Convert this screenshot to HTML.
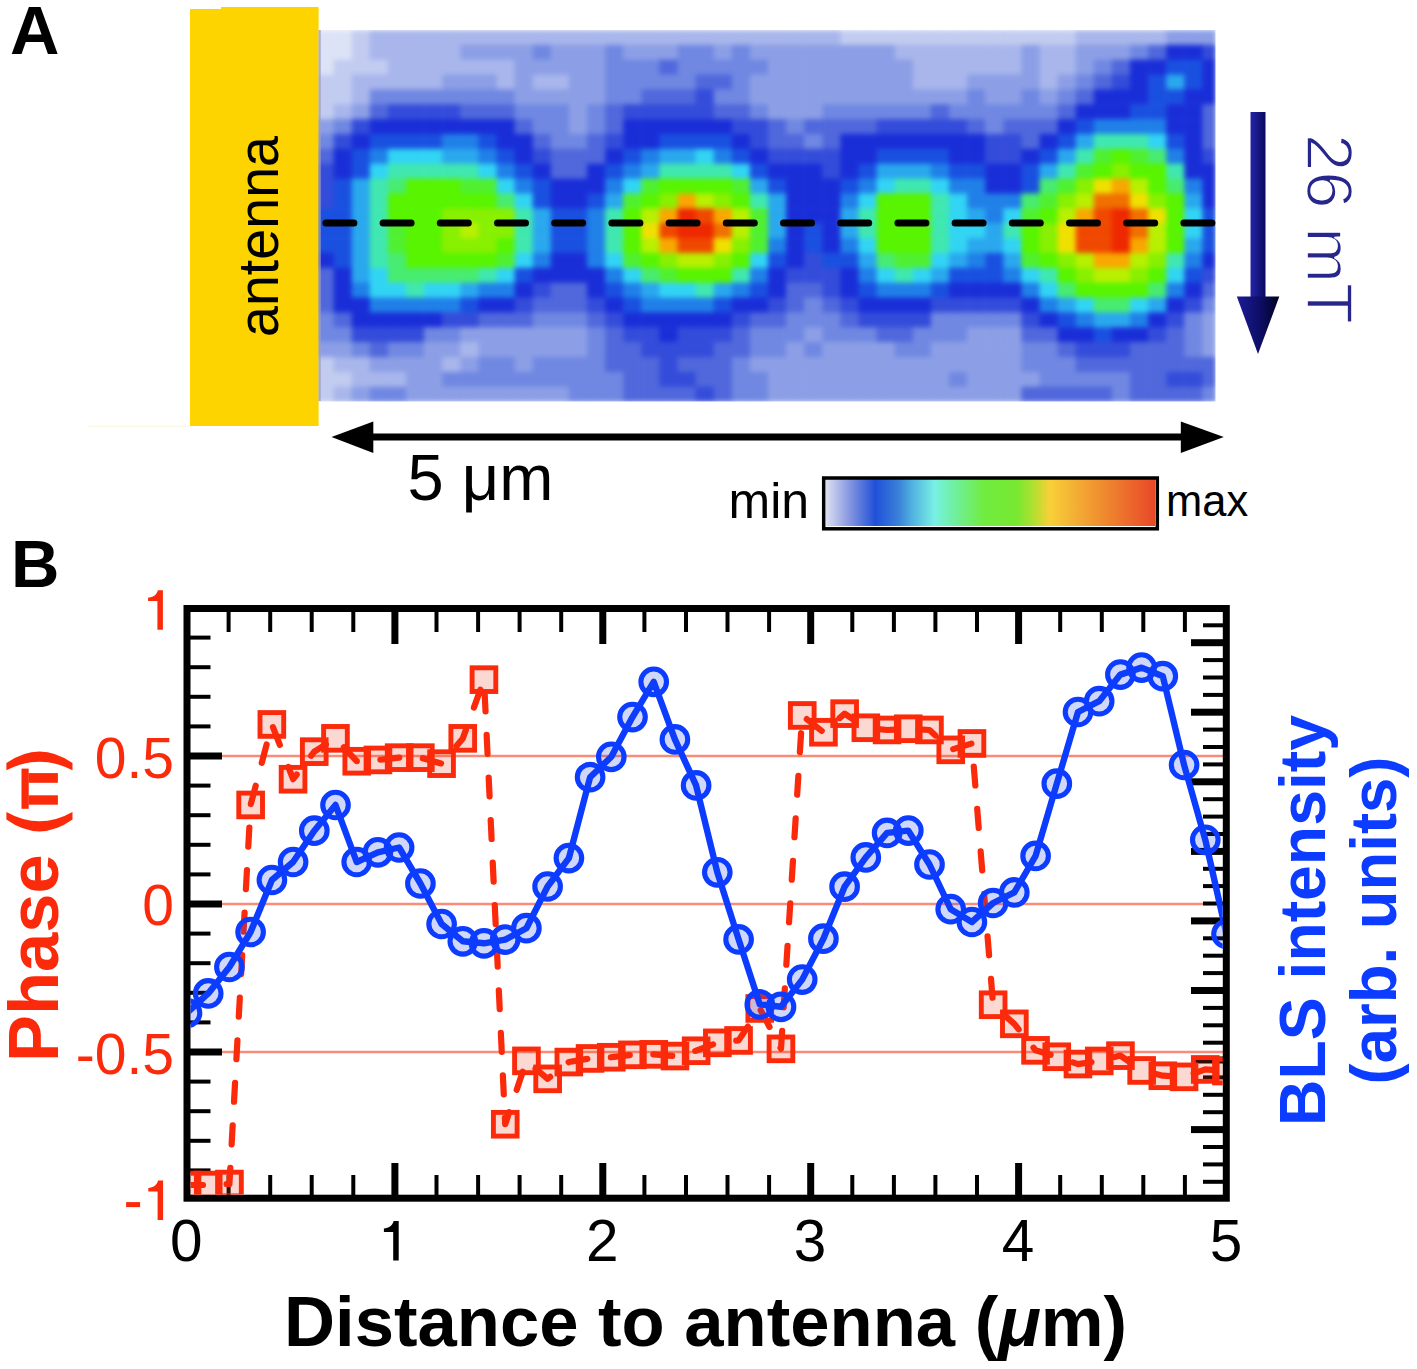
<!DOCTYPE html>
<html><head><meta charset="utf-8"><style>
html,body{margin:0;padding:0;background:#fff;}
svg{display:block;}
text{font-family:"Liberation Sans",sans-serif;}
</style></head><body>
<svg width="1417" height="1369" viewBox="0 0 1417 1369">
<defs>
<linearGradient id="cb" x1="0" x2="1" y1="0" y2="0">
<stop offset="0%" stop-color="#dce0f2"/>
<stop offset="7%" stop-color="#8898e0"/>
<stop offset="15%" stop-color="#2050d8"/>
<stop offset="22%" stop-color="#3a80d8"/>
<stop offset="26%" stop-color="#50b0e0"/>
<stop offset="33%" stop-color="#78f0e4"/>
<stop offset="39%" stop-color="#70f0a0"/>
<stop offset="48%" stop-color="#70ec40"/>
<stop offset="58%" stop-color="#78e830"/>
<stop offset="63%" stop-color="#b0e030"/>
<stop offset="68%" stop-color="#f8d038"/>
<stop offset="83%" stop-color="#f09030"/>
<stop offset="100%" stop-color="#e84828"/>
</linearGradient>
<linearGradient id="shaft" x1="0" x2="1" y1="0" y2="0">
<stop offset="0" stop-color="#2424a8"/><stop offset="1" stop-color="#0a0a60"/>
</linearGradient>
<linearGradient id="head" x1="0" x2="1" y1="0" y2="0">
<stop offset="0" stop-color="#1c1c98"/><stop offset="0.6" stop-color="#0c0c60"/><stop offset="1" stop-color="#000020"/>
</linearGradient>
<filter id="soft" x="0" y="0" width="1" height="1" color-interpolation-filters="sRGB"><feGaussianBlur stdDeviation="2.4"/></filter>
<clipPath id="hclip"><rect x="318" y="30" width="897.5" height="371.5"/></clipPath>
<clipPath id="plot"><rect x="190.5" y="612" width="1032.2" height="582.5"/></clipPath>
</defs>
<rect width="1417" height="1369" fill="#fff"/>
<!-- Panel A -->
<text x="10" y="54" font-size="68.5" font-weight="bold">A</text>
<g clip-path="url(#hclip)"><g filter="url(#soft)">
<rect x="315.50" y="29.90" width="18.70" height="15.47" fill="#dde3f6"/>
<rect x="333.60" y="29.90" width="18.70" height="15.47" fill="#dde3f6"/>
<rect x="351.70" y="29.90" width="18.70" height="15.47" fill="#c2ccf0"/>
<rect x="369.80" y="29.90" width="18.70" height="15.47" fill="#a8b6ec"/>
<rect x="387.90" y="29.90" width="18.70" height="15.47" fill="#a8b6ec"/>
<rect x="406.00" y="29.90" width="18.70" height="15.47" fill="#a8b6ec"/>
<rect x="424.10" y="29.90" width="18.70" height="15.47" fill="#a8b6ec"/>
<rect x="442.20" y="29.90" width="18.70" height="15.47" fill="#a8b6ec"/>
<rect x="460.30" y="29.90" width="18.70" height="15.47" fill="#a8b6ec"/>
<rect x="478.40" y="29.90" width="18.70" height="15.47" fill="#a8b6ec"/>
<rect x="496.50" y="29.90" width="18.70" height="15.47" fill="#a8b6ec"/>
<rect x="514.60" y="29.90" width="18.70" height="15.47" fill="#a8b6ec"/>
<rect x="532.70" y="29.90" width="18.70" height="15.47" fill="#a8b6ec"/>
<rect x="550.80" y="29.90" width="18.70" height="15.47" fill="#a8b6ec"/>
<rect x="568.90" y="29.90" width="18.70" height="15.47" fill="#a8b6ec"/>
<rect x="587.00" y="29.90" width="18.70" height="15.47" fill="#a8b6ec"/>
<rect x="605.10" y="29.90" width="18.70" height="15.47" fill="#a8b6ec"/>
<rect x="623.20" y="29.90" width="18.70" height="15.47" fill="#a8b6ec"/>
<rect x="641.30" y="29.90" width="18.70" height="15.47" fill="#a8b6ec"/>
<rect x="659.40" y="29.90" width="18.70" height="15.47" fill="#a8b6ec"/>
<rect x="677.50" y="29.90" width="18.70" height="15.47" fill="#a8b6ec"/>
<rect x="695.60" y="29.90" width="18.70" height="15.47" fill="#a8b6ec"/>
<rect x="713.70" y="29.90" width="18.70" height="15.47" fill="#a8b6ec"/>
<rect x="731.80" y="29.90" width="18.70" height="15.47" fill="#a8b6ec"/>
<rect x="749.90" y="29.90" width="18.70" height="15.47" fill="#a8b6ec"/>
<rect x="768.00" y="29.90" width="18.70" height="15.47" fill="#a8b6ec"/>
<rect x="786.10" y="29.90" width="18.70" height="15.47" fill="#a8b6ec"/>
<rect x="804.20" y="29.90" width="18.70" height="15.47" fill="#a8b6ec"/>
<rect x="822.30" y="29.90" width="18.70" height="15.47" fill="#a8b6ec"/>
<rect x="840.40" y="29.90" width="18.70" height="15.47" fill="#c2ccf0"/>
<rect x="858.50" y="29.90" width="18.70" height="15.47" fill="#c2ccf0"/>
<rect x="876.60" y="29.90" width="18.70" height="15.47" fill="#c2ccf0"/>
<rect x="894.70" y="29.90" width="18.70" height="15.47" fill="#c2ccf0"/>
<rect x="912.80" y="29.90" width="18.70" height="15.47" fill="#c2ccf0"/>
<rect x="930.90" y="29.90" width="18.70" height="15.47" fill="#c2ccf0"/>
<rect x="949.00" y="29.90" width="18.70" height="15.47" fill="#c2ccf0"/>
<rect x="967.10" y="29.90" width="18.70" height="15.47" fill="#c2ccf0"/>
<rect x="985.20" y="29.90" width="18.70" height="15.47" fill="#c2ccf0"/>
<rect x="1003.30" y="29.90" width="18.70" height="15.47" fill="#c2ccf0"/>
<rect x="1021.40" y="29.90" width="18.70" height="15.47" fill="#c2ccf0"/>
<rect x="1039.50" y="29.90" width="18.70" height="15.47" fill="#c2ccf0"/>
<rect x="1057.60" y="29.90" width="18.70" height="15.47" fill="#c2ccf0"/>
<rect x="1075.70" y="29.90" width="18.70" height="15.47" fill="#a8b6ec"/>
<rect x="1093.80" y="29.90" width="18.70" height="15.47" fill="#a8b6ec"/>
<rect x="1111.90" y="29.90" width="18.70" height="15.47" fill="#a8b6ec"/>
<rect x="1130.00" y="29.90" width="18.70" height="15.47" fill="#a8b6ec"/>
<rect x="1148.10" y="29.90" width="18.70" height="15.47" fill="#a8b6ec"/>
<rect x="1166.20" y="29.90" width="18.70" height="15.47" fill="#8c9fe6"/>
<rect x="1184.30" y="29.90" width="18.70" height="15.47" fill="#8c9fe6"/>
<rect x="1202.40" y="29.90" width="13.70" height="15.47" fill="#8c9fe6"/>
<rect x="315.50" y="44.77" width="18.70" height="15.47" fill="#dde3f6"/>
<rect x="333.60" y="44.77" width="18.70" height="15.47" fill="#dde3f6"/>
<rect x="351.70" y="44.77" width="18.70" height="15.47" fill="#c2ccf0"/>
<rect x="369.80" y="44.77" width="18.70" height="15.47" fill="#a8b6ec"/>
<rect x="387.90" y="44.77" width="18.70" height="15.47" fill="#a8b6ec"/>
<rect x="406.00" y="44.77" width="18.70" height="15.47" fill="#a8b6ec"/>
<rect x="424.10" y="44.77" width="18.70" height="15.47" fill="#a8b6ec"/>
<rect x="442.20" y="44.77" width="18.70" height="15.47" fill="#a8b6ec"/>
<rect x="460.30" y="44.77" width="18.70" height="15.47" fill="#8c9fe6"/>
<rect x="478.40" y="44.77" width="18.70" height="15.47" fill="#8c9fe6"/>
<rect x="496.50" y="44.77" width="18.70" height="15.47" fill="#8c9fe6"/>
<rect x="514.60" y="44.77" width="18.70" height="15.47" fill="#8c9fe6"/>
<rect x="532.70" y="44.77" width="18.70" height="15.47" fill="#7088e2"/>
<rect x="550.80" y="44.77" width="18.70" height="15.47" fill="#8c9fe6"/>
<rect x="568.90" y="44.77" width="18.70" height="15.47" fill="#8c9fe6"/>
<rect x="587.00" y="44.77" width="18.70" height="15.47" fill="#8c9fe6"/>
<rect x="605.10" y="44.77" width="18.70" height="15.47" fill="#7088e2"/>
<rect x="623.20" y="44.77" width="18.70" height="15.47" fill="#8c9fe6"/>
<rect x="641.30" y="44.77" width="18.70" height="15.47" fill="#8c9fe6"/>
<rect x="659.40" y="44.77" width="18.70" height="15.47" fill="#8c9fe6"/>
<rect x="677.50" y="44.77" width="18.70" height="15.47" fill="#7088e2"/>
<rect x="695.60" y="44.77" width="18.70" height="15.47" fill="#7088e2"/>
<rect x="713.70" y="44.77" width="18.70" height="15.47" fill="#8c9fe6"/>
<rect x="731.80" y="44.77" width="18.70" height="15.47" fill="#7088e2"/>
<rect x="749.90" y="44.77" width="18.70" height="15.47" fill="#8c9fe6"/>
<rect x="768.00" y="44.77" width="18.70" height="15.47" fill="#8c9fe6"/>
<rect x="786.10" y="44.77" width="18.70" height="15.47" fill="#8c9fe6"/>
<rect x="804.20" y="44.77" width="18.70" height="15.47" fill="#8c9fe6"/>
<rect x="822.30" y="44.77" width="18.70" height="15.47" fill="#8c9fe6"/>
<rect x="840.40" y="44.77" width="18.70" height="15.47" fill="#8c9fe6"/>
<rect x="858.50" y="44.77" width="18.70" height="15.47" fill="#8c9fe6"/>
<rect x="876.60" y="44.77" width="18.70" height="15.47" fill="#8c9fe6"/>
<rect x="894.70" y="44.77" width="18.70" height="15.47" fill="#a8b6ec"/>
<rect x="912.80" y="44.77" width="18.70" height="15.47" fill="#a8b6ec"/>
<rect x="930.90" y="44.77" width="18.70" height="15.47" fill="#a8b6ec"/>
<rect x="949.00" y="44.77" width="18.70" height="15.47" fill="#a8b6ec"/>
<rect x="967.10" y="44.77" width="18.70" height="15.47" fill="#a8b6ec"/>
<rect x="985.20" y="44.77" width="18.70" height="15.47" fill="#a8b6ec"/>
<rect x="1003.30" y="44.77" width="18.70" height="15.47" fill="#a8b6ec"/>
<rect x="1021.40" y="44.77" width="18.70" height="15.47" fill="#8c9fe6"/>
<rect x="1039.50" y="44.77" width="18.70" height="15.47" fill="#a8b6ec"/>
<rect x="1057.60" y="44.77" width="18.70" height="15.47" fill="#a8b6ec"/>
<rect x="1075.70" y="44.77" width="18.70" height="15.47" fill="#8c9fe6"/>
<rect x="1093.80" y="44.77" width="18.70" height="15.47" fill="#8c9fe6"/>
<rect x="1111.90" y="44.77" width="18.70" height="15.47" fill="#8c9fe6"/>
<rect x="1130.00" y="44.77" width="18.70" height="15.47" fill="#7088e2"/>
<rect x="1148.10" y="44.77" width="18.70" height="15.47" fill="#5068dc"/>
<rect x="1166.20" y="44.77" width="18.70" height="15.47" fill="#1a2ed8"/>
<rect x="1184.30" y="44.77" width="18.70" height="15.47" fill="#1a2ed8"/>
<rect x="1202.40" y="44.77" width="13.70" height="15.47" fill="#344cda"/>
<rect x="315.50" y="59.64" width="18.70" height="15.47" fill="#dde3f6"/>
<rect x="333.60" y="59.64" width="18.70" height="15.47" fill="#c2ccf0"/>
<rect x="351.70" y="59.64" width="18.70" height="15.47" fill="#c2ccf0"/>
<rect x="369.80" y="59.64" width="18.70" height="15.47" fill="#c2ccf0"/>
<rect x="387.90" y="59.64" width="18.70" height="15.47" fill="#a8b6ec"/>
<rect x="406.00" y="59.64" width="18.70" height="15.47" fill="#a8b6ec"/>
<rect x="424.10" y="59.64" width="18.70" height="15.47" fill="#a8b6ec"/>
<rect x="442.20" y="59.64" width="18.70" height="15.47" fill="#a8b6ec"/>
<rect x="460.30" y="59.64" width="18.70" height="15.47" fill="#a8b6ec"/>
<rect x="478.40" y="59.64" width="18.70" height="15.47" fill="#a8b6ec"/>
<rect x="496.50" y="59.64" width="18.70" height="15.47" fill="#a8b6ec"/>
<rect x="514.60" y="59.64" width="18.70" height="15.47" fill="#8c9fe6"/>
<rect x="532.70" y="59.64" width="18.70" height="15.47" fill="#8c9fe6"/>
<rect x="550.80" y="59.64" width="18.70" height="15.47" fill="#8c9fe6"/>
<rect x="568.90" y="59.64" width="18.70" height="15.47" fill="#8c9fe6"/>
<rect x="587.00" y="59.64" width="18.70" height="15.47" fill="#8c9fe6"/>
<rect x="605.10" y="59.64" width="18.70" height="15.47" fill="#7088e2"/>
<rect x="623.20" y="59.64" width="18.70" height="15.47" fill="#7088e2"/>
<rect x="641.30" y="59.64" width="18.70" height="15.47" fill="#7088e2"/>
<rect x="659.40" y="59.64" width="18.70" height="15.47" fill="#5068dc"/>
<rect x="677.50" y="59.64" width="18.70" height="15.47" fill="#7088e2"/>
<rect x="695.60" y="59.64" width="18.70" height="15.47" fill="#7088e2"/>
<rect x="713.70" y="59.64" width="18.70" height="15.47" fill="#7088e2"/>
<rect x="731.80" y="59.64" width="18.70" height="15.47" fill="#7088e2"/>
<rect x="749.90" y="59.64" width="18.70" height="15.47" fill="#7088e2"/>
<rect x="768.00" y="59.64" width="18.70" height="15.47" fill="#8c9fe6"/>
<rect x="786.10" y="59.64" width="18.70" height="15.47" fill="#8c9fe6"/>
<rect x="804.20" y="59.64" width="18.70" height="15.47" fill="#8c9fe6"/>
<rect x="822.30" y="59.64" width="18.70" height="15.47" fill="#8c9fe6"/>
<rect x="840.40" y="59.64" width="18.70" height="15.47" fill="#8c9fe6"/>
<rect x="858.50" y="59.64" width="18.70" height="15.47" fill="#8c9fe6"/>
<rect x="876.60" y="59.64" width="18.70" height="15.47" fill="#8c9fe6"/>
<rect x="894.70" y="59.64" width="18.70" height="15.47" fill="#8c9fe6"/>
<rect x="912.80" y="59.64" width="18.70" height="15.47" fill="#a8b6ec"/>
<rect x="930.90" y="59.64" width="18.70" height="15.47" fill="#a8b6ec"/>
<rect x="949.00" y="59.64" width="18.70" height="15.47" fill="#a8b6ec"/>
<rect x="967.10" y="59.64" width="18.70" height="15.47" fill="#a8b6ec"/>
<rect x="985.20" y="59.64" width="18.70" height="15.47" fill="#a8b6ec"/>
<rect x="1003.30" y="59.64" width="18.70" height="15.47" fill="#a8b6ec"/>
<rect x="1021.40" y="59.64" width="18.70" height="15.47" fill="#8c9fe6"/>
<rect x="1039.50" y="59.64" width="18.70" height="15.47" fill="#a8b6ec"/>
<rect x="1057.60" y="59.64" width="18.70" height="15.47" fill="#a8b6ec"/>
<rect x="1075.70" y="59.64" width="18.70" height="15.47" fill="#8c9fe6"/>
<rect x="1093.80" y="59.64" width="18.70" height="15.47" fill="#7088e2"/>
<rect x="1111.90" y="59.64" width="18.70" height="15.47" fill="#5068dc"/>
<rect x="1130.00" y="59.64" width="18.70" height="15.47" fill="#1a2ed8"/>
<rect x="1148.10" y="59.64" width="18.70" height="15.47" fill="#1a2ed8"/>
<rect x="1166.20" y="59.64" width="18.70" height="15.47" fill="#1a50e0"/>
<rect x="1184.30" y="59.64" width="18.70" height="15.47" fill="#1a50e0"/>
<rect x="1202.40" y="59.64" width="13.70" height="15.47" fill="#1a2ed8"/>
<rect x="315.50" y="74.51" width="18.70" height="15.47" fill="#c2ccf0"/>
<rect x="333.60" y="74.51" width="18.70" height="15.47" fill="#c2ccf0"/>
<rect x="351.70" y="74.51" width="18.70" height="15.47" fill="#a8b6ec"/>
<rect x="369.80" y="74.51" width="18.70" height="15.47" fill="#a8b6ec"/>
<rect x="387.90" y="74.51" width="18.70" height="15.47" fill="#a8b6ec"/>
<rect x="406.00" y="74.51" width="18.70" height="15.47" fill="#a8b6ec"/>
<rect x="424.10" y="74.51" width="18.70" height="15.47" fill="#a8b6ec"/>
<rect x="442.20" y="74.51" width="18.70" height="15.47" fill="#8c9fe6"/>
<rect x="460.30" y="74.51" width="18.70" height="15.47" fill="#8c9fe6"/>
<rect x="478.40" y="74.51" width="18.70" height="15.47" fill="#8c9fe6"/>
<rect x="496.50" y="74.51" width="18.70" height="15.47" fill="#a8b6ec"/>
<rect x="514.60" y="74.51" width="18.70" height="15.47" fill="#8c9fe6"/>
<rect x="532.70" y="74.51" width="18.70" height="15.47" fill="#a8b6ec"/>
<rect x="550.80" y="74.51" width="18.70" height="15.47" fill="#a8b6ec"/>
<rect x="568.90" y="74.51" width="18.70" height="15.47" fill="#8c9fe6"/>
<rect x="587.00" y="74.51" width="18.70" height="15.47" fill="#8c9fe6"/>
<rect x="605.10" y="74.51" width="18.70" height="15.47" fill="#7088e2"/>
<rect x="623.20" y="74.51" width="18.70" height="15.47" fill="#7088e2"/>
<rect x="641.30" y="74.51" width="18.70" height="15.47" fill="#7088e2"/>
<rect x="659.40" y="74.51" width="18.70" height="15.47" fill="#7088e2"/>
<rect x="677.50" y="74.51" width="18.70" height="15.47" fill="#7088e2"/>
<rect x="695.60" y="74.51" width="18.70" height="15.47" fill="#5068dc"/>
<rect x="713.70" y="74.51" width="18.70" height="15.47" fill="#5068dc"/>
<rect x="731.80" y="74.51" width="18.70" height="15.47" fill="#7088e2"/>
<rect x="749.90" y="74.51" width="18.70" height="15.47" fill="#8c9fe6"/>
<rect x="768.00" y="74.51" width="18.70" height="15.47" fill="#8c9fe6"/>
<rect x="786.10" y="74.51" width="18.70" height="15.47" fill="#8c9fe6"/>
<rect x="804.20" y="74.51" width="18.70" height="15.47" fill="#8c9fe6"/>
<rect x="822.30" y="74.51" width="18.70" height="15.47" fill="#8c9fe6"/>
<rect x="840.40" y="74.51" width="18.70" height="15.47" fill="#8c9fe6"/>
<rect x="858.50" y="74.51" width="18.70" height="15.47" fill="#8c9fe6"/>
<rect x="876.60" y="74.51" width="18.70" height="15.47" fill="#8c9fe6"/>
<rect x="894.70" y="74.51" width="18.70" height="15.47" fill="#8c9fe6"/>
<rect x="912.80" y="74.51" width="18.70" height="15.47" fill="#a8b6ec"/>
<rect x="930.90" y="74.51" width="18.70" height="15.47" fill="#a8b6ec"/>
<rect x="949.00" y="74.51" width="18.70" height="15.47" fill="#a8b6ec"/>
<rect x="967.10" y="74.51" width="18.70" height="15.47" fill="#8c9fe6"/>
<rect x="985.20" y="74.51" width="18.70" height="15.47" fill="#8c9fe6"/>
<rect x="1003.30" y="74.51" width="18.70" height="15.47" fill="#8c9fe6"/>
<rect x="1021.40" y="74.51" width="18.70" height="15.47" fill="#8c9fe6"/>
<rect x="1039.50" y="74.51" width="18.70" height="15.47" fill="#a8b6ec"/>
<rect x="1057.60" y="74.51" width="18.70" height="15.47" fill="#8c9fe6"/>
<rect x="1075.70" y="74.51" width="18.70" height="15.47" fill="#7088e2"/>
<rect x="1093.80" y="74.51" width="18.70" height="15.47" fill="#5068dc"/>
<rect x="1111.90" y="74.51" width="18.70" height="15.47" fill="#344cda"/>
<rect x="1130.00" y="74.51" width="18.70" height="15.47" fill="#1a2ed8"/>
<rect x="1148.10" y="74.51" width="18.70" height="15.47" fill="#1a50e0"/>
<rect x="1166.20" y="74.51" width="18.70" height="15.47" fill="#2aa8ee"/>
<rect x="1184.30" y="74.51" width="18.70" height="15.47" fill="#1a50e0"/>
<rect x="1202.40" y="74.51" width="13.70" height="15.47" fill="#1a2ed8"/>
<rect x="315.50" y="89.38" width="18.70" height="15.47" fill="#c2ccf0"/>
<rect x="333.60" y="89.38" width="18.70" height="15.47" fill="#c2ccf0"/>
<rect x="351.70" y="89.38" width="18.70" height="15.47" fill="#a8b6ec"/>
<rect x="369.80" y="89.38" width="18.70" height="15.47" fill="#7088e2"/>
<rect x="387.90" y="89.38" width="18.70" height="15.47" fill="#7088e2"/>
<rect x="406.00" y="89.38" width="18.70" height="15.47" fill="#7088e2"/>
<rect x="424.10" y="89.38" width="18.70" height="15.47" fill="#7088e2"/>
<rect x="442.20" y="89.38" width="18.70" height="15.47" fill="#7088e2"/>
<rect x="460.30" y="89.38" width="18.70" height="15.47" fill="#7088e2"/>
<rect x="478.40" y="89.38" width="18.70" height="15.47" fill="#7088e2"/>
<rect x="496.50" y="89.38" width="18.70" height="15.47" fill="#7088e2"/>
<rect x="514.60" y="89.38" width="18.70" height="15.47" fill="#8c9fe6"/>
<rect x="532.70" y="89.38" width="18.70" height="15.47" fill="#8c9fe6"/>
<rect x="550.80" y="89.38" width="18.70" height="15.47" fill="#8c9fe6"/>
<rect x="568.90" y="89.38" width="18.70" height="15.47" fill="#8c9fe6"/>
<rect x="587.00" y="89.38" width="18.70" height="15.47" fill="#8c9fe6"/>
<rect x="605.10" y="89.38" width="18.70" height="15.47" fill="#7088e2"/>
<rect x="623.20" y="89.38" width="18.70" height="15.47" fill="#7088e2"/>
<rect x="641.30" y="89.38" width="18.70" height="15.47" fill="#5068dc"/>
<rect x="659.40" y="89.38" width="18.70" height="15.47" fill="#5068dc"/>
<rect x="677.50" y="89.38" width="18.70" height="15.47" fill="#5068dc"/>
<rect x="695.60" y="89.38" width="18.70" height="15.47" fill="#344cda"/>
<rect x="713.70" y="89.38" width="18.70" height="15.47" fill="#7088e2"/>
<rect x="731.80" y="89.38" width="18.70" height="15.47" fill="#7088e2"/>
<rect x="749.90" y="89.38" width="18.70" height="15.47" fill="#8c9fe6"/>
<rect x="768.00" y="89.38" width="18.70" height="15.47" fill="#8c9fe6"/>
<rect x="786.10" y="89.38" width="18.70" height="15.47" fill="#8c9fe6"/>
<rect x="804.20" y="89.38" width="18.70" height="15.47" fill="#8c9fe6"/>
<rect x="822.30" y="89.38" width="18.70" height="15.47" fill="#8c9fe6"/>
<rect x="840.40" y="89.38" width="18.70" height="15.47" fill="#8c9fe6"/>
<rect x="858.50" y="89.38" width="18.70" height="15.47" fill="#8c9fe6"/>
<rect x="876.60" y="89.38" width="18.70" height="15.47" fill="#8c9fe6"/>
<rect x="894.70" y="89.38" width="18.70" height="15.47" fill="#8c9fe6"/>
<rect x="912.80" y="89.38" width="18.70" height="15.47" fill="#8c9fe6"/>
<rect x="930.90" y="89.38" width="18.70" height="15.47" fill="#8c9fe6"/>
<rect x="949.00" y="89.38" width="18.70" height="15.47" fill="#8c9fe6"/>
<rect x="967.10" y="89.38" width="18.70" height="15.47" fill="#7088e2"/>
<rect x="985.20" y="89.38" width="18.70" height="15.47" fill="#8c9fe6"/>
<rect x="1003.30" y="89.38" width="18.70" height="15.47" fill="#8c9fe6"/>
<rect x="1021.40" y="89.38" width="18.70" height="15.47" fill="#7088e2"/>
<rect x="1039.50" y="89.38" width="18.70" height="15.47" fill="#8c9fe6"/>
<rect x="1057.60" y="89.38" width="18.70" height="15.47" fill="#7088e2"/>
<rect x="1075.70" y="89.38" width="18.70" height="15.47" fill="#5068dc"/>
<rect x="1093.80" y="89.38" width="18.70" height="15.47" fill="#1a2ed8"/>
<rect x="1111.90" y="89.38" width="18.70" height="15.47" fill="#1a2ed8"/>
<rect x="1130.00" y="89.38" width="18.70" height="15.47" fill="#1a2ed8"/>
<rect x="1148.10" y="89.38" width="18.70" height="15.47" fill="#1a50e0"/>
<rect x="1166.20" y="89.38" width="18.70" height="15.47" fill="#1a50e0"/>
<rect x="1184.30" y="89.38" width="18.70" height="15.47" fill="#1a2ed8"/>
<rect x="1202.40" y="89.38" width="13.70" height="15.47" fill="#1a2ed8"/>
<rect x="315.50" y="104.25" width="18.70" height="15.47" fill="#c2ccf0"/>
<rect x="333.60" y="104.25" width="18.70" height="15.47" fill="#a8b6ec"/>
<rect x="351.70" y="104.25" width="18.70" height="15.47" fill="#8c9fe6"/>
<rect x="369.80" y="104.25" width="18.70" height="15.47" fill="#5068dc"/>
<rect x="387.90" y="104.25" width="18.70" height="15.47" fill="#344cda"/>
<rect x="406.00" y="104.25" width="18.70" height="15.47" fill="#344cda"/>
<rect x="424.10" y="104.25" width="18.70" height="15.47" fill="#344cda"/>
<rect x="442.20" y="104.25" width="18.70" height="15.47" fill="#344cda"/>
<rect x="460.30" y="104.25" width="18.70" height="15.47" fill="#5068dc"/>
<rect x="478.40" y="104.25" width="18.70" height="15.47" fill="#5068dc"/>
<rect x="496.50" y="104.25" width="18.70" height="15.47" fill="#5068dc"/>
<rect x="514.60" y="104.25" width="18.70" height="15.47" fill="#7088e2"/>
<rect x="532.70" y="104.25" width="18.70" height="15.47" fill="#7088e2"/>
<rect x="550.80" y="104.25" width="18.70" height="15.47" fill="#7088e2"/>
<rect x="568.90" y="104.25" width="18.70" height="15.47" fill="#8c9fe6"/>
<rect x="587.00" y="104.25" width="18.70" height="15.47" fill="#7088e2"/>
<rect x="605.10" y="104.25" width="18.70" height="15.47" fill="#5068dc"/>
<rect x="623.20" y="104.25" width="18.70" height="15.47" fill="#344cda"/>
<rect x="641.30" y="104.25" width="18.70" height="15.47" fill="#344cda"/>
<rect x="659.40" y="104.25" width="18.70" height="15.47" fill="#344cda"/>
<rect x="677.50" y="104.25" width="18.70" height="15.47" fill="#344cda"/>
<rect x="695.60" y="104.25" width="18.70" height="15.47" fill="#344cda"/>
<rect x="713.70" y="104.25" width="18.70" height="15.47" fill="#5068dc"/>
<rect x="731.80" y="104.25" width="18.70" height="15.47" fill="#5068dc"/>
<rect x="749.90" y="104.25" width="18.70" height="15.47" fill="#7088e2"/>
<rect x="768.00" y="104.25" width="18.70" height="15.47" fill="#8c9fe6"/>
<rect x="786.10" y="104.25" width="18.70" height="15.47" fill="#8c9fe6"/>
<rect x="804.20" y="104.25" width="18.70" height="15.47" fill="#8c9fe6"/>
<rect x="822.30" y="104.25" width="18.70" height="15.47" fill="#7088e2"/>
<rect x="840.40" y="104.25" width="18.70" height="15.47" fill="#7088e2"/>
<rect x="858.50" y="104.25" width="18.70" height="15.47" fill="#7088e2"/>
<rect x="876.60" y="104.25" width="18.70" height="15.47" fill="#7088e2"/>
<rect x="894.70" y="104.25" width="18.70" height="15.47" fill="#7088e2"/>
<rect x="912.80" y="104.25" width="18.70" height="15.47" fill="#7088e2"/>
<rect x="930.90" y="104.25" width="18.70" height="15.47" fill="#5068dc"/>
<rect x="949.00" y="104.25" width="18.70" height="15.47" fill="#7088e2"/>
<rect x="967.10" y="104.25" width="18.70" height="15.47" fill="#7088e2"/>
<rect x="985.20" y="104.25" width="18.70" height="15.47" fill="#7088e2"/>
<rect x="1003.30" y="104.25" width="18.70" height="15.47" fill="#7088e2"/>
<rect x="1021.40" y="104.25" width="18.70" height="15.47" fill="#7088e2"/>
<rect x="1039.50" y="104.25" width="18.70" height="15.47" fill="#7088e2"/>
<rect x="1057.60" y="104.25" width="18.70" height="15.47" fill="#5068dc"/>
<rect x="1075.70" y="104.25" width="18.70" height="15.47" fill="#1a2ed8"/>
<rect x="1093.80" y="104.25" width="18.70" height="15.47" fill="#1a2ed8"/>
<rect x="1111.90" y="104.25" width="18.70" height="15.47" fill="#1a2ed8"/>
<rect x="1130.00" y="104.25" width="18.70" height="15.47" fill="#1a50e0"/>
<rect x="1148.10" y="104.25" width="18.70" height="15.47" fill="#1a50e0"/>
<rect x="1166.20" y="104.25" width="18.70" height="15.47" fill="#1a2ed8"/>
<rect x="1184.30" y="104.25" width="18.70" height="15.47" fill="#1a2ed8"/>
<rect x="1202.40" y="104.25" width="13.70" height="15.47" fill="#5068dc"/>
<rect x="315.50" y="119.12" width="18.70" height="15.47" fill="#8c9fe6"/>
<rect x="333.60" y="119.12" width="18.70" height="15.47" fill="#7088e2"/>
<rect x="351.70" y="119.12" width="18.70" height="15.47" fill="#344cda"/>
<rect x="369.80" y="119.12" width="18.70" height="15.47" fill="#1a2ed8"/>
<rect x="387.90" y="119.12" width="18.70" height="15.47" fill="#1a2ed8"/>
<rect x="406.00" y="119.12" width="18.70" height="15.47" fill="#1a2ed8"/>
<rect x="424.10" y="119.12" width="18.70" height="15.47" fill="#1a2ed8"/>
<rect x="442.20" y="119.12" width="18.70" height="15.47" fill="#1a2ed8"/>
<rect x="460.30" y="119.12" width="18.70" height="15.47" fill="#1a2ed8"/>
<rect x="478.40" y="119.12" width="18.70" height="15.47" fill="#1a2ed8"/>
<rect x="496.50" y="119.12" width="18.70" height="15.47" fill="#1a2ed8"/>
<rect x="514.60" y="119.12" width="18.70" height="15.47" fill="#5068dc"/>
<rect x="532.70" y="119.12" width="18.70" height="15.47" fill="#7088e2"/>
<rect x="550.80" y="119.12" width="18.70" height="15.47" fill="#7088e2"/>
<rect x="568.90" y="119.12" width="18.70" height="15.47" fill="#8c9fe6"/>
<rect x="587.00" y="119.12" width="18.70" height="15.47" fill="#7088e2"/>
<rect x="605.10" y="119.12" width="18.70" height="15.47" fill="#5068dc"/>
<rect x="623.20" y="119.12" width="18.70" height="15.47" fill="#1a2ed8"/>
<rect x="641.30" y="119.12" width="18.70" height="15.47" fill="#1a2ed8"/>
<rect x="659.40" y="119.12" width="18.70" height="15.47" fill="#1a2ed8"/>
<rect x="677.50" y="119.12" width="18.70" height="15.47" fill="#1a2ed8"/>
<rect x="695.60" y="119.12" width="18.70" height="15.47" fill="#1a2ed8"/>
<rect x="713.70" y="119.12" width="18.70" height="15.47" fill="#1a2ed8"/>
<rect x="731.80" y="119.12" width="18.70" height="15.47" fill="#344cda"/>
<rect x="749.90" y="119.12" width="18.70" height="15.47" fill="#344cda"/>
<rect x="768.00" y="119.12" width="18.70" height="15.47" fill="#5068dc"/>
<rect x="786.10" y="119.12" width="18.70" height="15.47" fill="#7088e2"/>
<rect x="804.20" y="119.12" width="18.70" height="15.47" fill="#5068dc"/>
<rect x="822.30" y="119.12" width="18.70" height="15.47" fill="#5068dc"/>
<rect x="840.40" y="119.12" width="18.70" height="15.47" fill="#5068dc"/>
<rect x="858.50" y="119.12" width="18.70" height="15.47" fill="#5068dc"/>
<rect x="876.60" y="119.12" width="18.70" height="15.47" fill="#344cda"/>
<rect x="894.70" y="119.12" width="18.70" height="15.47" fill="#344cda"/>
<rect x="912.80" y="119.12" width="18.70" height="15.47" fill="#344cda"/>
<rect x="930.90" y="119.12" width="18.70" height="15.47" fill="#344cda"/>
<rect x="949.00" y="119.12" width="18.70" height="15.47" fill="#344cda"/>
<rect x="967.10" y="119.12" width="18.70" height="15.47" fill="#5068dc"/>
<rect x="985.20" y="119.12" width="18.70" height="15.47" fill="#7088e2"/>
<rect x="1003.30" y="119.12" width="18.70" height="15.47" fill="#5068dc"/>
<rect x="1021.40" y="119.12" width="18.70" height="15.47" fill="#5068dc"/>
<rect x="1039.50" y="119.12" width="18.70" height="15.47" fill="#5068dc"/>
<rect x="1057.60" y="119.12" width="18.70" height="15.47" fill="#1a2ed8"/>
<rect x="1075.70" y="119.12" width="18.70" height="15.47" fill="#1a50e0"/>
<rect x="1093.80" y="119.12" width="18.70" height="15.47" fill="#2080e8"/>
<rect x="1111.90" y="119.12" width="18.70" height="15.47" fill="#2080e8"/>
<rect x="1130.00" y="119.12" width="18.70" height="15.47" fill="#2080e8"/>
<rect x="1148.10" y="119.12" width="18.70" height="15.47" fill="#2080e8"/>
<rect x="1166.20" y="119.12" width="18.70" height="15.47" fill="#1a2ed8"/>
<rect x="1184.30" y="119.12" width="18.70" height="15.47" fill="#1a2ed8"/>
<rect x="1202.40" y="119.12" width="13.70" height="15.47" fill="#5068dc"/>
<rect x="315.50" y="133.99" width="18.70" height="15.47" fill="#7088e2"/>
<rect x="333.60" y="133.99" width="18.70" height="15.47" fill="#344cda"/>
<rect x="351.70" y="133.99" width="18.70" height="15.47" fill="#1a2ed8"/>
<rect x="369.80" y="133.99" width="18.70" height="15.47" fill="#1a50e0"/>
<rect x="387.90" y="133.99" width="18.70" height="15.47" fill="#1a50e0"/>
<rect x="406.00" y="133.99" width="18.70" height="15.47" fill="#1a50e0"/>
<rect x="424.10" y="133.99" width="18.70" height="15.47" fill="#1a50e0"/>
<rect x="442.20" y="133.99" width="18.70" height="15.47" fill="#2080e8"/>
<rect x="460.30" y="133.99" width="18.70" height="15.47" fill="#2080e8"/>
<rect x="478.40" y="133.99" width="18.70" height="15.47" fill="#1a50e0"/>
<rect x="496.50" y="133.99" width="18.70" height="15.47" fill="#1a2ed8"/>
<rect x="514.60" y="133.99" width="18.70" height="15.47" fill="#1a2ed8"/>
<rect x="532.70" y="133.99" width="18.70" height="15.47" fill="#5068dc"/>
<rect x="550.80" y="133.99" width="18.70" height="15.47" fill="#7088e2"/>
<rect x="568.90" y="133.99" width="18.70" height="15.47" fill="#7088e2"/>
<rect x="587.00" y="133.99" width="18.70" height="15.47" fill="#5068dc"/>
<rect x="605.10" y="133.99" width="18.70" height="15.47" fill="#344cda"/>
<rect x="623.20" y="133.99" width="18.70" height="15.47" fill="#1a2ed8"/>
<rect x="641.30" y="133.99" width="18.70" height="15.47" fill="#1a2ed8"/>
<rect x="659.40" y="133.99" width="18.70" height="15.47" fill="#1a50e0"/>
<rect x="677.50" y="133.99" width="18.70" height="15.47" fill="#1a50e0"/>
<rect x="695.60" y="133.99" width="18.70" height="15.47" fill="#1a50e0"/>
<rect x="713.70" y="133.99" width="18.70" height="15.47" fill="#1a50e0"/>
<rect x="731.80" y="133.99" width="18.70" height="15.47" fill="#1a2ed8"/>
<rect x="749.90" y="133.99" width="18.70" height="15.47" fill="#344cda"/>
<rect x="768.00" y="133.99" width="18.70" height="15.47" fill="#5068dc"/>
<rect x="786.10" y="133.99" width="18.70" height="15.47" fill="#5068dc"/>
<rect x="804.20" y="133.99" width="18.70" height="15.47" fill="#7088e2"/>
<rect x="822.30" y="133.99" width="18.70" height="15.47" fill="#5068dc"/>
<rect x="840.40" y="133.99" width="18.70" height="15.47" fill="#1a2ed8"/>
<rect x="858.50" y="133.99" width="18.70" height="15.47" fill="#1a2ed8"/>
<rect x="876.60" y="133.99" width="18.70" height="15.47" fill="#1a2ed8"/>
<rect x="894.70" y="133.99" width="18.70" height="15.47" fill="#1a2ed8"/>
<rect x="912.80" y="133.99" width="18.70" height="15.47" fill="#1a2ed8"/>
<rect x="930.90" y="133.99" width="18.70" height="15.47" fill="#1a2ed8"/>
<rect x="949.00" y="133.99" width="18.70" height="15.47" fill="#1a2ed8"/>
<rect x="967.10" y="133.99" width="18.70" height="15.47" fill="#1a2ed8"/>
<rect x="985.20" y="133.99" width="18.70" height="15.47" fill="#344cda"/>
<rect x="1003.30" y="133.99" width="18.70" height="15.47" fill="#344cda"/>
<rect x="1021.40" y="133.99" width="18.70" height="15.47" fill="#5068dc"/>
<rect x="1039.50" y="133.99" width="18.70" height="15.47" fill="#1a2ed8"/>
<rect x="1057.60" y="133.99" width="18.70" height="15.47" fill="#1a50e0"/>
<rect x="1075.70" y="133.99" width="18.70" height="15.47" fill="#2aa8ee"/>
<rect x="1093.80" y="133.99" width="18.70" height="15.47" fill="#40e8b0"/>
<rect x="1111.90" y="133.99" width="18.70" height="15.47" fill="#40e8b0"/>
<rect x="1130.00" y="133.99" width="18.70" height="15.47" fill="#40e8b0"/>
<rect x="1148.10" y="133.99" width="18.70" height="15.47" fill="#32d4f4"/>
<rect x="1166.20" y="133.99" width="18.70" height="15.47" fill="#1a50e0"/>
<rect x="1184.30" y="133.99" width="18.70" height="15.47" fill="#1a2ed8"/>
<rect x="1202.40" y="133.99" width="13.70" height="15.47" fill="#5068dc"/>
<rect x="315.50" y="148.86" width="18.70" height="15.47" fill="#5068dc"/>
<rect x="333.60" y="148.86" width="18.70" height="15.47" fill="#1a2ed8"/>
<rect x="351.70" y="148.86" width="18.70" height="15.47" fill="#1a50e0"/>
<rect x="369.80" y="148.86" width="18.70" height="15.47" fill="#2080e8"/>
<rect x="387.90" y="148.86" width="18.70" height="15.47" fill="#32d4f4"/>
<rect x="406.00" y="148.86" width="18.70" height="15.47" fill="#32d4f4"/>
<rect x="424.10" y="148.86" width="18.70" height="15.47" fill="#32d4f4"/>
<rect x="442.20" y="148.86" width="18.70" height="15.47" fill="#2aa8ee"/>
<rect x="460.30" y="148.86" width="18.70" height="15.47" fill="#2aa8ee"/>
<rect x="478.40" y="148.86" width="18.70" height="15.47" fill="#2080e8"/>
<rect x="496.50" y="148.86" width="18.70" height="15.47" fill="#1a50e0"/>
<rect x="514.60" y="148.86" width="18.70" height="15.47" fill="#1a2ed8"/>
<rect x="532.70" y="148.86" width="18.70" height="15.47" fill="#344cda"/>
<rect x="550.80" y="148.86" width="18.70" height="15.47" fill="#5068dc"/>
<rect x="568.90" y="148.86" width="18.70" height="15.47" fill="#5068dc"/>
<rect x="587.00" y="148.86" width="18.70" height="15.47" fill="#5068dc"/>
<rect x="605.10" y="148.86" width="18.70" height="15.47" fill="#1a2ed8"/>
<rect x="623.20" y="148.86" width="18.70" height="15.47" fill="#1a50e0"/>
<rect x="641.30" y="148.86" width="18.70" height="15.47" fill="#2080e8"/>
<rect x="659.40" y="148.86" width="18.70" height="15.47" fill="#2aa8ee"/>
<rect x="677.50" y="148.86" width="18.70" height="15.47" fill="#2aa8ee"/>
<rect x="695.60" y="148.86" width="18.70" height="15.47" fill="#32d4f4"/>
<rect x="713.70" y="148.86" width="18.70" height="15.47" fill="#2080e8"/>
<rect x="731.80" y="148.86" width="18.70" height="15.47" fill="#1a50e0"/>
<rect x="749.90" y="148.86" width="18.70" height="15.47" fill="#1a2ed8"/>
<rect x="768.00" y="148.86" width="18.70" height="15.47" fill="#344cda"/>
<rect x="786.10" y="148.86" width="18.70" height="15.47" fill="#344cda"/>
<rect x="804.20" y="148.86" width="18.70" height="15.47" fill="#344cda"/>
<rect x="822.30" y="148.86" width="18.70" height="15.47" fill="#344cda"/>
<rect x="840.40" y="148.86" width="18.70" height="15.47" fill="#1a2ed8"/>
<rect x="858.50" y="148.86" width="18.70" height="15.47" fill="#1a2ed8"/>
<rect x="876.60" y="148.86" width="18.70" height="15.47" fill="#1a50e0"/>
<rect x="894.70" y="148.86" width="18.70" height="15.47" fill="#1a50e0"/>
<rect x="912.80" y="148.86" width="18.70" height="15.47" fill="#1a50e0"/>
<rect x="930.90" y="148.86" width="18.70" height="15.47" fill="#1a50e0"/>
<rect x="949.00" y="148.86" width="18.70" height="15.47" fill="#1a2ed8"/>
<rect x="967.10" y="148.86" width="18.70" height="15.47" fill="#1a2ed8"/>
<rect x="985.20" y="148.86" width="18.70" height="15.47" fill="#344cda"/>
<rect x="1003.30" y="148.86" width="18.70" height="15.47" fill="#344cda"/>
<rect x="1021.40" y="148.86" width="18.70" height="15.47" fill="#1a2ed8"/>
<rect x="1039.50" y="148.86" width="18.70" height="15.47" fill="#1a50e0"/>
<rect x="1057.60" y="148.86" width="18.70" height="15.47" fill="#2aa8ee"/>
<rect x="1075.70" y="148.86" width="18.70" height="15.47" fill="#40e8b0"/>
<rect x="1093.80" y="148.86" width="18.70" height="15.47" fill="#50f030"/>
<rect x="1111.90" y="148.86" width="18.70" height="15.47" fill="#58f400"/>
<rect x="1130.00" y="148.86" width="18.70" height="15.47" fill="#50f030"/>
<rect x="1148.10" y="148.86" width="18.70" height="15.47" fill="#48ec70"/>
<rect x="1166.20" y="148.86" width="18.70" height="15.47" fill="#2080e8"/>
<rect x="1184.30" y="148.86" width="18.70" height="15.47" fill="#1a2ed8"/>
<rect x="1202.40" y="148.86" width="13.70" height="15.47" fill="#344cda"/>
<rect x="315.50" y="163.73" width="18.70" height="15.47" fill="#344cda"/>
<rect x="333.60" y="163.73" width="18.70" height="15.47" fill="#1a2ed8"/>
<rect x="351.70" y="163.73" width="18.70" height="15.47" fill="#1a50e0"/>
<rect x="369.80" y="163.73" width="18.70" height="15.47" fill="#32d4f4"/>
<rect x="387.90" y="163.73" width="18.70" height="15.47" fill="#40e8b0"/>
<rect x="406.00" y="163.73" width="18.70" height="15.47" fill="#40e8b0"/>
<rect x="424.10" y="163.73" width="18.70" height="15.47" fill="#40e8b0"/>
<rect x="442.20" y="163.73" width="18.70" height="15.47" fill="#40e8b0"/>
<rect x="460.30" y="163.73" width="18.70" height="15.47" fill="#40e8b0"/>
<rect x="478.40" y="163.73" width="18.70" height="15.47" fill="#32d4f4"/>
<rect x="496.50" y="163.73" width="18.70" height="15.47" fill="#2080e8"/>
<rect x="514.60" y="163.73" width="18.70" height="15.47" fill="#1a50e0"/>
<rect x="532.70" y="163.73" width="18.70" height="15.47" fill="#1a2ed8"/>
<rect x="550.80" y="163.73" width="18.70" height="15.47" fill="#5068dc"/>
<rect x="568.90" y="163.73" width="18.70" height="15.47" fill="#5068dc"/>
<rect x="587.00" y="163.73" width="18.70" height="15.47" fill="#1a2ed8"/>
<rect x="605.10" y="163.73" width="18.70" height="15.47" fill="#1a50e0"/>
<rect x="623.20" y="163.73" width="18.70" height="15.47" fill="#2080e8"/>
<rect x="641.30" y="163.73" width="18.70" height="15.47" fill="#2aa8ee"/>
<rect x="659.40" y="163.73" width="18.70" height="15.47" fill="#40e8b0"/>
<rect x="677.50" y="163.73" width="18.70" height="15.47" fill="#40e8b0"/>
<rect x="695.60" y="163.73" width="18.70" height="15.47" fill="#40e8b0"/>
<rect x="713.70" y="163.73" width="18.70" height="15.47" fill="#40e8b0"/>
<rect x="731.80" y="163.73" width="18.70" height="15.47" fill="#32d4f4"/>
<rect x="749.90" y="163.73" width="18.70" height="15.47" fill="#1a50e0"/>
<rect x="768.00" y="163.73" width="18.70" height="15.47" fill="#1a2ed8"/>
<rect x="786.10" y="163.73" width="18.70" height="15.47" fill="#1a2ed8"/>
<rect x="804.20" y="163.73" width="18.70" height="15.47" fill="#1a2ed8"/>
<rect x="822.30" y="163.73" width="18.70" height="15.47" fill="#344cda"/>
<rect x="840.40" y="163.73" width="18.70" height="15.47" fill="#1a2ed8"/>
<rect x="858.50" y="163.73" width="18.70" height="15.47" fill="#1a50e0"/>
<rect x="876.60" y="163.73" width="18.70" height="15.47" fill="#2aa8ee"/>
<rect x="894.70" y="163.73" width="18.70" height="15.47" fill="#2aa8ee"/>
<rect x="912.80" y="163.73" width="18.70" height="15.47" fill="#2aa8ee"/>
<rect x="930.90" y="163.73" width="18.70" height="15.47" fill="#2080e8"/>
<rect x="949.00" y="163.73" width="18.70" height="15.47" fill="#1a50e0"/>
<rect x="967.10" y="163.73" width="18.70" height="15.47" fill="#1a50e0"/>
<rect x="985.20" y="163.73" width="18.70" height="15.47" fill="#1a2ed8"/>
<rect x="1003.30" y="163.73" width="18.70" height="15.47" fill="#1a2ed8"/>
<rect x="1021.40" y="163.73" width="18.70" height="15.47" fill="#1a50e0"/>
<rect x="1039.50" y="163.73" width="18.70" height="15.47" fill="#2aa8ee"/>
<rect x="1057.60" y="163.73" width="18.70" height="15.47" fill="#40e8b0"/>
<rect x="1075.70" y="163.73" width="18.70" height="15.47" fill="#50f030"/>
<rect x="1093.80" y="163.73" width="18.70" height="15.47" fill="#58f400"/>
<rect x="1111.90" y="163.73" width="18.70" height="15.47" fill="#88f000"/>
<rect x="1130.00" y="163.73" width="18.70" height="15.47" fill="#58f400"/>
<rect x="1148.10" y="163.73" width="18.70" height="15.47" fill="#58f400"/>
<rect x="1166.20" y="163.73" width="18.70" height="15.47" fill="#40e8b0"/>
<rect x="1184.30" y="163.73" width="18.70" height="15.47" fill="#1a2ed8"/>
<rect x="1202.40" y="163.73" width="13.70" height="15.47" fill="#1a2ed8"/>
<rect x="315.50" y="178.60" width="18.70" height="15.47" fill="#344cda"/>
<rect x="333.60" y="178.60" width="18.70" height="15.47" fill="#1a50e0"/>
<rect x="351.70" y="178.60" width="18.70" height="15.47" fill="#2aa8ee"/>
<rect x="369.80" y="178.60" width="18.70" height="15.47" fill="#40e8b0"/>
<rect x="387.90" y="178.60" width="18.70" height="15.47" fill="#48ec70"/>
<rect x="406.00" y="178.60" width="18.70" height="15.47" fill="#58f400"/>
<rect x="424.10" y="178.60" width="18.70" height="15.47" fill="#58f400"/>
<rect x="442.20" y="178.60" width="18.70" height="15.47" fill="#58f400"/>
<rect x="460.30" y="178.60" width="18.70" height="15.47" fill="#50f030"/>
<rect x="478.40" y="178.60" width="18.70" height="15.47" fill="#50f030"/>
<rect x="496.50" y="178.60" width="18.70" height="15.47" fill="#32d4f4"/>
<rect x="514.60" y="178.60" width="18.70" height="15.47" fill="#2080e8"/>
<rect x="532.70" y="178.60" width="18.70" height="15.47" fill="#1a50e0"/>
<rect x="550.80" y="178.60" width="18.70" height="15.47" fill="#1a2ed8"/>
<rect x="568.90" y="178.60" width="18.70" height="15.47" fill="#1a2ed8"/>
<rect x="587.00" y="178.60" width="18.70" height="15.47" fill="#1a2ed8"/>
<rect x="605.10" y="178.60" width="18.70" height="15.47" fill="#2080e8"/>
<rect x="623.20" y="178.60" width="18.70" height="15.47" fill="#32d4f4"/>
<rect x="641.30" y="178.60" width="18.70" height="15.47" fill="#50f030"/>
<rect x="659.40" y="178.60" width="18.70" height="15.47" fill="#58f400"/>
<rect x="677.50" y="178.60" width="18.70" height="15.47" fill="#58f400"/>
<rect x="695.60" y="178.60" width="18.70" height="15.47" fill="#58f400"/>
<rect x="713.70" y="178.60" width="18.70" height="15.47" fill="#58f400"/>
<rect x="731.80" y="178.60" width="18.70" height="15.47" fill="#50f030"/>
<rect x="749.90" y="178.60" width="18.70" height="15.47" fill="#2aa8ee"/>
<rect x="768.00" y="178.60" width="18.70" height="15.47" fill="#1a50e0"/>
<rect x="786.10" y="178.60" width="18.70" height="15.47" fill="#1a2ed8"/>
<rect x="804.20" y="178.60" width="18.70" height="15.47" fill="#1a2ed8"/>
<rect x="822.30" y="178.60" width="18.70" height="15.47" fill="#1a2ed8"/>
<rect x="840.40" y="178.60" width="18.70" height="15.47" fill="#1a50e0"/>
<rect x="858.50" y="178.60" width="18.70" height="15.47" fill="#2080e8"/>
<rect x="876.60" y="178.60" width="18.70" height="15.47" fill="#32d4f4"/>
<rect x="894.70" y="178.60" width="18.70" height="15.47" fill="#40e8b0"/>
<rect x="912.80" y="178.60" width="18.70" height="15.47" fill="#40e8b0"/>
<rect x="930.90" y="178.60" width="18.70" height="15.47" fill="#32d4f4"/>
<rect x="949.00" y="178.60" width="18.70" height="15.47" fill="#2080e8"/>
<rect x="967.10" y="178.60" width="18.70" height="15.47" fill="#2080e8"/>
<rect x="985.20" y="178.60" width="18.70" height="15.47" fill="#1a2ed8"/>
<rect x="1003.30" y="178.60" width="18.70" height="15.47" fill="#1a2ed8"/>
<rect x="1021.40" y="178.60" width="18.70" height="15.47" fill="#1a50e0"/>
<rect x="1039.50" y="178.60" width="18.70" height="15.47" fill="#48ec70"/>
<rect x="1057.60" y="178.60" width="18.70" height="15.47" fill="#50f030"/>
<rect x="1075.70" y="178.60" width="18.70" height="15.47" fill="#88f000"/>
<rect x="1093.80" y="178.60" width="18.70" height="15.47" fill="#f0e000"/>
<rect x="1111.90" y="178.60" width="18.70" height="15.47" fill="#f8a800"/>
<rect x="1130.00" y="178.60" width="18.70" height="15.47" fill="#b8f000"/>
<rect x="1148.10" y="178.60" width="18.70" height="15.47" fill="#58f400"/>
<rect x="1166.20" y="178.60" width="18.70" height="15.47" fill="#48ec70"/>
<rect x="1184.30" y="178.60" width="18.70" height="15.47" fill="#2080e8"/>
<rect x="1202.40" y="178.60" width="13.70" height="15.47" fill="#1a2ed8"/>
<rect x="315.50" y="193.47" width="18.70" height="15.47" fill="#344cda"/>
<rect x="333.60" y="193.47" width="18.70" height="15.47" fill="#1a50e0"/>
<rect x="351.70" y="193.47" width="18.70" height="15.47" fill="#2aa8ee"/>
<rect x="369.80" y="193.47" width="18.70" height="15.47" fill="#40e8b0"/>
<rect x="387.90" y="193.47" width="18.70" height="15.47" fill="#58f400"/>
<rect x="406.00" y="193.47" width="18.70" height="15.47" fill="#58f400"/>
<rect x="424.10" y="193.47" width="18.70" height="15.47" fill="#58f400"/>
<rect x="442.20" y="193.47" width="18.70" height="15.47" fill="#58f400"/>
<rect x="460.30" y="193.47" width="18.70" height="15.47" fill="#58f400"/>
<rect x="478.40" y="193.47" width="18.70" height="15.47" fill="#58f400"/>
<rect x="496.50" y="193.47" width="18.70" height="15.47" fill="#48ec70"/>
<rect x="514.60" y="193.47" width="18.70" height="15.47" fill="#32d4f4"/>
<rect x="532.70" y="193.47" width="18.70" height="15.47" fill="#1a50e0"/>
<rect x="550.80" y="193.47" width="18.70" height="15.47" fill="#1a2ed8"/>
<rect x="568.90" y="193.47" width="18.70" height="15.47" fill="#1a2ed8"/>
<rect x="587.00" y="193.47" width="18.70" height="15.47" fill="#1a50e0"/>
<rect x="605.10" y="193.47" width="18.70" height="15.47" fill="#2aa8ee"/>
<rect x="623.20" y="193.47" width="18.70" height="15.47" fill="#50f030"/>
<rect x="641.30" y="193.47" width="18.70" height="15.47" fill="#58f400"/>
<rect x="659.40" y="193.47" width="18.70" height="15.47" fill="#88f000"/>
<rect x="677.50" y="193.47" width="18.70" height="15.47" fill="#f8a800"/>
<rect x="695.60" y="193.47" width="18.70" height="15.47" fill="#b8f000"/>
<rect x="713.70" y="193.47" width="18.70" height="15.47" fill="#88f000"/>
<rect x="731.80" y="193.47" width="18.70" height="15.47" fill="#58f400"/>
<rect x="749.90" y="193.47" width="18.70" height="15.47" fill="#40e8b0"/>
<rect x="768.00" y="193.47" width="18.70" height="15.47" fill="#2aa8ee"/>
<rect x="786.10" y="193.47" width="18.70" height="15.47" fill="#1a2ed8"/>
<rect x="804.20" y="193.47" width="18.70" height="15.47" fill="#1a2ed8"/>
<rect x="822.30" y="193.47" width="18.70" height="15.47" fill="#1a2ed8"/>
<rect x="840.40" y="193.47" width="18.70" height="15.47" fill="#2080e8"/>
<rect x="858.50" y="193.47" width="18.70" height="15.47" fill="#32d4f4"/>
<rect x="876.60" y="193.47" width="18.70" height="15.47" fill="#58f400"/>
<rect x="894.70" y="193.47" width="18.70" height="15.47" fill="#58f400"/>
<rect x="912.80" y="193.47" width="18.70" height="15.47" fill="#58f400"/>
<rect x="930.90" y="193.47" width="18.70" height="15.47" fill="#40e8b0"/>
<rect x="949.00" y="193.47" width="18.70" height="15.47" fill="#32d4f4"/>
<rect x="967.10" y="193.47" width="18.70" height="15.47" fill="#2080e8"/>
<rect x="985.20" y="193.47" width="18.70" height="15.47" fill="#2080e8"/>
<rect x="1003.30" y="193.47" width="18.70" height="15.47" fill="#2080e8"/>
<rect x="1021.40" y="193.47" width="18.70" height="15.47" fill="#48ec70"/>
<rect x="1039.50" y="193.47" width="18.70" height="15.47" fill="#50f030"/>
<rect x="1057.60" y="193.47" width="18.70" height="15.47" fill="#88f000"/>
<rect x="1075.70" y="193.47" width="18.70" height="15.47" fill="#b8f000"/>
<rect x="1093.80" y="193.47" width="18.70" height="15.47" fill="#f07000"/>
<rect x="1111.90" y="193.47" width="18.70" height="15.47" fill="#f07000"/>
<rect x="1130.00" y="193.47" width="18.70" height="15.47" fill="#f0e000"/>
<rect x="1148.10" y="193.47" width="18.70" height="15.47" fill="#88f000"/>
<rect x="1166.20" y="193.47" width="18.70" height="15.47" fill="#58f400"/>
<rect x="1184.30" y="193.47" width="18.70" height="15.47" fill="#2aa8ee"/>
<rect x="1202.40" y="193.47" width="13.70" height="15.47" fill="#1a2ed8"/>
<rect x="315.50" y="208.34" width="18.70" height="15.47" fill="#1a50e0"/>
<rect x="333.60" y="208.34" width="18.70" height="15.47" fill="#1a50e0"/>
<rect x="351.70" y="208.34" width="18.70" height="15.47" fill="#2aa8ee"/>
<rect x="369.80" y="208.34" width="18.70" height="15.47" fill="#40e8b0"/>
<rect x="387.90" y="208.34" width="18.70" height="15.47" fill="#58f400"/>
<rect x="406.00" y="208.34" width="18.70" height="15.47" fill="#58f400"/>
<rect x="424.10" y="208.34" width="18.70" height="15.47" fill="#58f400"/>
<rect x="442.20" y="208.34" width="18.70" height="15.47" fill="#88f000"/>
<rect x="460.30" y="208.34" width="18.70" height="15.47" fill="#88f000"/>
<rect x="478.40" y="208.34" width="18.70" height="15.47" fill="#88f000"/>
<rect x="496.50" y="208.34" width="18.70" height="15.47" fill="#88f000"/>
<rect x="514.60" y="208.34" width="18.70" height="15.47" fill="#40e8b0"/>
<rect x="532.70" y="208.34" width="18.70" height="15.47" fill="#2aa8ee"/>
<rect x="550.80" y="208.34" width="18.70" height="15.47" fill="#1a50e0"/>
<rect x="568.90" y="208.34" width="18.70" height="15.47" fill="#1a50e0"/>
<rect x="587.00" y="208.34" width="18.70" height="15.47" fill="#2080e8"/>
<rect x="605.10" y="208.34" width="18.70" height="15.47" fill="#40e8b0"/>
<rect x="623.20" y="208.34" width="18.70" height="15.47" fill="#58f400"/>
<rect x="641.30" y="208.34" width="18.70" height="15.47" fill="#b8f000"/>
<rect x="659.40" y="208.34" width="18.70" height="15.47" fill="#f8a800"/>
<rect x="677.50" y="208.34" width="18.70" height="15.47" fill="#ee2800"/>
<rect x="695.60" y="208.34" width="18.70" height="15.47" fill="#f04800"/>
<rect x="713.70" y="208.34" width="18.70" height="15.47" fill="#f8a800"/>
<rect x="731.80" y="208.34" width="18.70" height="15.47" fill="#b8f000"/>
<rect x="749.90" y="208.34" width="18.70" height="15.47" fill="#50f030"/>
<rect x="768.00" y="208.34" width="18.70" height="15.47" fill="#2aa8ee"/>
<rect x="786.10" y="208.34" width="18.70" height="15.47" fill="#1a2ed8"/>
<rect x="804.20" y="208.34" width="18.70" height="15.47" fill="#1a2ed8"/>
<rect x="822.30" y="208.34" width="18.70" height="15.47" fill="#1a2ed8"/>
<rect x="840.40" y="208.34" width="18.70" height="15.47" fill="#2aa8ee"/>
<rect x="858.50" y="208.34" width="18.70" height="15.47" fill="#40e8b0"/>
<rect x="876.60" y="208.34" width="18.70" height="15.47" fill="#58f400"/>
<rect x="894.70" y="208.34" width="18.70" height="15.47" fill="#58f400"/>
<rect x="912.80" y="208.34" width="18.70" height="15.47" fill="#58f400"/>
<rect x="930.90" y="208.34" width="18.70" height="15.47" fill="#40e8b0"/>
<rect x="949.00" y="208.34" width="18.70" height="15.47" fill="#32d4f4"/>
<rect x="967.10" y="208.34" width="18.70" height="15.47" fill="#2aa8ee"/>
<rect x="985.20" y="208.34" width="18.70" height="15.47" fill="#2080e8"/>
<rect x="1003.30" y="208.34" width="18.70" height="15.47" fill="#32d4f4"/>
<rect x="1021.40" y="208.34" width="18.70" height="15.47" fill="#50f030"/>
<rect x="1039.50" y="208.34" width="18.70" height="15.47" fill="#58f400"/>
<rect x="1057.60" y="208.34" width="18.70" height="15.47" fill="#b8f000"/>
<rect x="1075.70" y="208.34" width="18.70" height="15.47" fill="#f8a800"/>
<rect x="1093.80" y="208.34" width="18.70" height="15.47" fill="#f04800"/>
<rect x="1111.90" y="208.34" width="18.70" height="15.47" fill="#ee2800"/>
<rect x="1130.00" y="208.34" width="18.70" height="15.47" fill="#f07000"/>
<rect x="1148.10" y="208.34" width="18.70" height="15.47" fill="#f0e000"/>
<rect x="1166.20" y="208.34" width="18.70" height="15.47" fill="#58f400"/>
<rect x="1184.30" y="208.34" width="18.70" height="15.47" fill="#32d4f4"/>
<rect x="1202.40" y="208.34" width="13.70" height="15.47" fill="#1a50e0"/>
<rect x="315.50" y="223.21" width="18.70" height="15.47" fill="#1a50e0"/>
<rect x="333.60" y="223.21" width="18.70" height="15.47" fill="#1a50e0"/>
<rect x="351.70" y="223.21" width="18.70" height="15.47" fill="#2aa8ee"/>
<rect x="369.80" y="223.21" width="18.70" height="15.47" fill="#40e8b0"/>
<rect x="387.90" y="223.21" width="18.70" height="15.47" fill="#50f030"/>
<rect x="406.00" y="223.21" width="18.70" height="15.47" fill="#58f400"/>
<rect x="424.10" y="223.21" width="18.70" height="15.47" fill="#58f400"/>
<rect x="442.20" y="223.21" width="18.70" height="15.47" fill="#88f000"/>
<rect x="460.30" y="223.21" width="18.70" height="15.47" fill="#b8f000"/>
<rect x="478.40" y="223.21" width="18.70" height="15.47" fill="#88f000"/>
<rect x="496.50" y="223.21" width="18.70" height="15.47" fill="#88f000"/>
<rect x="514.60" y="223.21" width="18.70" height="15.47" fill="#40e8b0"/>
<rect x="532.70" y="223.21" width="18.70" height="15.47" fill="#2aa8ee"/>
<rect x="550.80" y="223.21" width="18.70" height="15.47" fill="#1a50e0"/>
<rect x="568.90" y="223.21" width="18.70" height="15.47" fill="#1a50e0"/>
<rect x="587.00" y="223.21" width="18.70" height="15.47" fill="#2080e8"/>
<rect x="605.10" y="223.21" width="18.70" height="15.47" fill="#40e8b0"/>
<rect x="623.20" y="223.21" width="18.70" height="15.47" fill="#58f400"/>
<rect x="641.30" y="223.21" width="18.70" height="15.47" fill="#f0e000"/>
<rect x="659.40" y="223.21" width="18.70" height="15.47" fill="#f04800"/>
<rect x="677.50" y="223.21" width="18.70" height="15.47" fill="#ee2800"/>
<rect x="695.60" y="223.21" width="18.70" height="15.47" fill="#ee2800"/>
<rect x="713.70" y="223.21" width="18.70" height="15.47" fill="#f07000"/>
<rect x="731.80" y="223.21" width="18.70" height="15.47" fill="#b8f000"/>
<rect x="749.90" y="223.21" width="18.70" height="15.47" fill="#50f030"/>
<rect x="768.00" y="223.21" width="18.70" height="15.47" fill="#2aa8ee"/>
<rect x="786.10" y="223.21" width="18.70" height="15.47" fill="#1a2ed8"/>
<rect x="804.20" y="223.21" width="18.70" height="15.47" fill="#1a50e0"/>
<rect x="822.30" y="223.21" width="18.70" height="15.47" fill="#1a2ed8"/>
<rect x="840.40" y="223.21" width="18.70" height="15.47" fill="#2aa8ee"/>
<rect x="858.50" y="223.21" width="18.70" height="15.47" fill="#40e8b0"/>
<rect x="876.60" y="223.21" width="18.70" height="15.47" fill="#58f400"/>
<rect x="894.70" y="223.21" width="18.70" height="15.47" fill="#58f400"/>
<rect x="912.80" y="223.21" width="18.70" height="15.47" fill="#58f400"/>
<rect x="930.90" y="223.21" width="18.70" height="15.47" fill="#40e8b0"/>
<rect x="949.00" y="223.21" width="18.70" height="15.47" fill="#32d4f4"/>
<rect x="967.10" y="223.21" width="18.70" height="15.47" fill="#32d4f4"/>
<rect x="985.20" y="223.21" width="18.70" height="15.47" fill="#2aa8ee"/>
<rect x="1003.30" y="223.21" width="18.70" height="15.47" fill="#40e8b0"/>
<rect x="1021.40" y="223.21" width="18.70" height="15.47" fill="#58f400"/>
<rect x="1039.50" y="223.21" width="18.70" height="15.47" fill="#88f000"/>
<rect x="1057.60" y="223.21" width="18.70" height="15.47" fill="#f0e000"/>
<rect x="1075.70" y="223.21" width="18.70" height="15.47" fill="#f04800"/>
<rect x="1093.80" y="223.21" width="18.70" height="15.47" fill="#f04800"/>
<rect x="1111.90" y="223.21" width="18.70" height="15.47" fill="#ee2800"/>
<rect x="1130.00" y="223.21" width="18.70" height="15.47" fill="#f07000"/>
<rect x="1148.10" y="223.21" width="18.70" height="15.47" fill="#b8f000"/>
<rect x="1166.20" y="223.21" width="18.70" height="15.47" fill="#58f400"/>
<rect x="1184.30" y="223.21" width="18.70" height="15.47" fill="#32d4f4"/>
<rect x="1202.40" y="223.21" width="13.70" height="15.47" fill="#1a50e0"/>
<rect x="315.50" y="238.08" width="18.70" height="15.47" fill="#1a50e0"/>
<rect x="333.60" y="238.08" width="18.70" height="15.47" fill="#1a50e0"/>
<rect x="351.70" y="238.08" width="18.70" height="15.47" fill="#2aa8ee"/>
<rect x="369.80" y="238.08" width="18.70" height="15.47" fill="#40e8b0"/>
<rect x="387.90" y="238.08" width="18.70" height="15.47" fill="#50f030"/>
<rect x="406.00" y="238.08" width="18.70" height="15.47" fill="#58f400"/>
<rect x="424.10" y="238.08" width="18.70" height="15.47" fill="#58f400"/>
<rect x="442.20" y="238.08" width="18.70" height="15.47" fill="#88f000"/>
<rect x="460.30" y="238.08" width="18.70" height="15.47" fill="#88f000"/>
<rect x="478.40" y="238.08" width="18.70" height="15.47" fill="#88f000"/>
<rect x="496.50" y="238.08" width="18.70" height="15.47" fill="#58f400"/>
<rect x="514.60" y="238.08" width="18.70" height="15.47" fill="#40e8b0"/>
<rect x="532.70" y="238.08" width="18.70" height="15.47" fill="#2aa8ee"/>
<rect x="550.80" y="238.08" width="18.70" height="15.47" fill="#1a50e0"/>
<rect x="568.90" y="238.08" width="18.70" height="15.47" fill="#1a50e0"/>
<rect x="587.00" y="238.08" width="18.70" height="15.47" fill="#2080e8"/>
<rect x="605.10" y="238.08" width="18.70" height="15.47" fill="#40e8b0"/>
<rect x="623.20" y="238.08" width="18.70" height="15.47" fill="#58f400"/>
<rect x="641.30" y="238.08" width="18.70" height="15.47" fill="#b8f000"/>
<rect x="659.40" y="238.08" width="18.70" height="15.47" fill="#f8a800"/>
<rect x="677.50" y="238.08" width="18.70" height="15.47" fill="#f04800"/>
<rect x="695.60" y="238.08" width="18.70" height="15.47" fill="#f04800"/>
<rect x="713.70" y="238.08" width="18.70" height="15.47" fill="#f0e000"/>
<rect x="731.80" y="238.08" width="18.70" height="15.47" fill="#88f000"/>
<rect x="749.90" y="238.08" width="18.70" height="15.47" fill="#50f030"/>
<rect x="768.00" y="238.08" width="18.70" height="15.47" fill="#2080e8"/>
<rect x="786.10" y="238.08" width="18.70" height="15.47" fill="#1a2ed8"/>
<rect x="804.20" y="238.08" width="18.70" height="15.47" fill="#1a50e0"/>
<rect x="822.30" y="238.08" width="18.70" height="15.47" fill="#1a2ed8"/>
<rect x="840.40" y="238.08" width="18.70" height="15.47" fill="#2080e8"/>
<rect x="858.50" y="238.08" width="18.70" height="15.47" fill="#32d4f4"/>
<rect x="876.60" y="238.08" width="18.70" height="15.47" fill="#58f400"/>
<rect x="894.70" y="238.08" width="18.70" height="15.47" fill="#58f400"/>
<rect x="912.80" y="238.08" width="18.70" height="15.47" fill="#58f400"/>
<rect x="930.90" y="238.08" width="18.70" height="15.47" fill="#40e8b0"/>
<rect x="949.00" y="238.08" width="18.70" height="15.47" fill="#32d4f4"/>
<rect x="967.10" y="238.08" width="18.70" height="15.47" fill="#2aa8ee"/>
<rect x="985.20" y="238.08" width="18.70" height="15.47" fill="#2aa8ee"/>
<rect x="1003.30" y="238.08" width="18.70" height="15.47" fill="#32d4f4"/>
<rect x="1021.40" y="238.08" width="18.70" height="15.47" fill="#58f400"/>
<rect x="1039.50" y="238.08" width="18.70" height="15.47" fill="#88f000"/>
<rect x="1057.60" y="238.08" width="18.70" height="15.47" fill="#f0e000"/>
<rect x="1075.70" y="238.08" width="18.70" height="15.47" fill="#f04800"/>
<rect x="1093.80" y="238.08" width="18.70" height="15.47" fill="#f04800"/>
<rect x="1111.90" y="238.08" width="18.70" height="15.47" fill="#ee2800"/>
<rect x="1130.00" y="238.08" width="18.70" height="15.47" fill="#f8a800"/>
<rect x="1148.10" y="238.08" width="18.70" height="15.47" fill="#b8f000"/>
<rect x="1166.20" y="238.08" width="18.70" height="15.47" fill="#58f400"/>
<rect x="1184.30" y="238.08" width="18.70" height="15.47" fill="#2aa8ee"/>
<rect x="1202.40" y="238.08" width="13.70" height="15.47" fill="#1a50e0"/>
<rect x="315.50" y="252.95" width="18.70" height="15.47" fill="#1a2ed8"/>
<rect x="333.60" y="252.95" width="18.70" height="15.47" fill="#1a50e0"/>
<rect x="351.70" y="252.95" width="18.70" height="15.47" fill="#2aa8ee"/>
<rect x="369.80" y="252.95" width="18.70" height="15.47" fill="#40e8b0"/>
<rect x="387.90" y="252.95" width="18.70" height="15.47" fill="#48ec70"/>
<rect x="406.00" y="252.95" width="18.70" height="15.47" fill="#58f400"/>
<rect x="424.10" y="252.95" width="18.70" height="15.47" fill="#58f400"/>
<rect x="442.20" y="252.95" width="18.70" height="15.47" fill="#58f400"/>
<rect x="460.30" y="252.95" width="18.70" height="15.47" fill="#58f400"/>
<rect x="478.40" y="252.95" width="18.70" height="15.47" fill="#58f400"/>
<rect x="496.50" y="252.95" width="18.70" height="15.47" fill="#50f030"/>
<rect x="514.60" y="252.95" width="18.70" height="15.47" fill="#32d4f4"/>
<rect x="532.70" y="252.95" width="18.70" height="15.47" fill="#2080e8"/>
<rect x="550.80" y="252.95" width="18.70" height="15.47" fill="#1a2ed8"/>
<rect x="568.90" y="252.95" width="18.70" height="15.47" fill="#1a2ed8"/>
<rect x="587.00" y="252.95" width="18.70" height="15.47" fill="#2080e8"/>
<rect x="605.10" y="252.95" width="18.70" height="15.47" fill="#32d4f4"/>
<rect x="623.20" y="252.95" width="18.70" height="15.47" fill="#50f030"/>
<rect x="641.30" y="252.95" width="18.70" height="15.47" fill="#58f400"/>
<rect x="659.40" y="252.95" width="18.70" height="15.47" fill="#88f000"/>
<rect x="677.50" y="252.95" width="18.70" height="15.47" fill="#b8f000"/>
<rect x="695.60" y="252.95" width="18.70" height="15.47" fill="#b8f000"/>
<rect x="713.70" y="252.95" width="18.70" height="15.47" fill="#88f000"/>
<rect x="731.80" y="252.95" width="18.70" height="15.47" fill="#58f400"/>
<rect x="749.90" y="252.95" width="18.70" height="15.47" fill="#32d4f4"/>
<rect x="768.00" y="252.95" width="18.70" height="15.47" fill="#1a50e0"/>
<rect x="786.10" y="252.95" width="18.70" height="15.47" fill="#1a2ed8"/>
<rect x="804.20" y="252.95" width="18.70" height="15.47" fill="#344cda"/>
<rect x="822.30" y="252.95" width="18.70" height="15.47" fill="#1a50e0"/>
<rect x="840.40" y="252.95" width="18.70" height="15.47" fill="#1a50e0"/>
<rect x="858.50" y="252.95" width="18.70" height="15.47" fill="#2aa8ee"/>
<rect x="876.60" y="252.95" width="18.70" height="15.47" fill="#48ec70"/>
<rect x="894.70" y="252.95" width="18.70" height="15.47" fill="#50f030"/>
<rect x="912.80" y="252.95" width="18.70" height="15.47" fill="#50f030"/>
<rect x="930.90" y="252.95" width="18.70" height="15.47" fill="#32d4f4"/>
<rect x="949.00" y="252.95" width="18.70" height="15.47" fill="#2aa8ee"/>
<rect x="967.10" y="252.95" width="18.70" height="15.47" fill="#2080e8"/>
<rect x="985.20" y="252.95" width="18.70" height="15.47" fill="#1a50e0"/>
<rect x="1003.30" y="252.95" width="18.70" height="15.47" fill="#2aa8ee"/>
<rect x="1021.40" y="252.95" width="18.70" height="15.47" fill="#50f030"/>
<rect x="1039.50" y="252.95" width="18.70" height="15.47" fill="#58f400"/>
<rect x="1057.60" y="252.95" width="18.70" height="15.47" fill="#88f000"/>
<rect x="1075.70" y="252.95" width="18.70" height="15.47" fill="#b8f000"/>
<rect x="1093.80" y="252.95" width="18.70" height="15.47" fill="#f8a800"/>
<rect x="1111.90" y="252.95" width="18.70" height="15.47" fill="#f8a800"/>
<rect x="1130.00" y="252.95" width="18.70" height="15.47" fill="#b8f000"/>
<rect x="1148.10" y="252.95" width="18.70" height="15.47" fill="#88f000"/>
<rect x="1166.20" y="252.95" width="18.70" height="15.47" fill="#40e8b0"/>
<rect x="1184.30" y="252.95" width="18.70" height="15.47" fill="#2080e8"/>
<rect x="1202.40" y="252.95" width="13.70" height="15.47" fill="#1a2ed8"/>
<rect x="315.50" y="267.82" width="18.70" height="15.47" fill="#5068dc"/>
<rect x="333.60" y="267.82" width="18.70" height="15.47" fill="#1a2ed8"/>
<rect x="351.70" y="267.82" width="18.70" height="15.47" fill="#2aa8ee"/>
<rect x="369.80" y="267.82" width="18.70" height="15.47" fill="#32d4f4"/>
<rect x="387.90" y="267.82" width="18.70" height="15.47" fill="#48ec70"/>
<rect x="406.00" y="267.82" width="18.70" height="15.47" fill="#48ec70"/>
<rect x="424.10" y="267.82" width="18.70" height="15.47" fill="#48ec70"/>
<rect x="442.20" y="267.82" width="18.70" height="15.47" fill="#48ec70"/>
<rect x="460.30" y="267.82" width="18.70" height="15.47" fill="#48ec70"/>
<rect x="478.40" y="267.82" width="18.70" height="15.47" fill="#40e8b0"/>
<rect x="496.50" y="267.82" width="18.70" height="15.47" fill="#32d4f4"/>
<rect x="514.60" y="267.82" width="18.70" height="15.47" fill="#1a50e0"/>
<rect x="532.70" y="267.82" width="18.70" height="15.47" fill="#1a2ed8"/>
<rect x="550.80" y="267.82" width="18.70" height="15.47" fill="#1a2ed8"/>
<rect x="568.90" y="267.82" width="18.70" height="15.47" fill="#1a2ed8"/>
<rect x="587.00" y="267.82" width="18.70" height="15.47" fill="#1a2ed8"/>
<rect x="605.10" y="267.82" width="18.70" height="15.47" fill="#2080e8"/>
<rect x="623.20" y="267.82" width="18.70" height="15.47" fill="#32d4f4"/>
<rect x="641.30" y="267.82" width="18.70" height="15.47" fill="#48ec70"/>
<rect x="659.40" y="267.82" width="18.70" height="15.47" fill="#50f030"/>
<rect x="677.50" y="267.82" width="18.70" height="15.47" fill="#58f400"/>
<rect x="695.60" y="267.82" width="18.70" height="15.47" fill="#58f400"/>
<rect x="713.70" y="267.82" width="18.70" height="15.47" fill="#58f400"/>
<rect x="731.80" y="267.82" width="18.70" height="15.47" fill="#40e8b0"/>
<rect x="749.90" y="267.82" width="18.70" height="15.47" fill="#2080e8"/>
<rect x="768.00" y="267.82" width="18.70" height="15.47" fill="#1a2ed8"/>
<rect x="786.10" y="267.82" width="18.70" height="15.47" fill="#344cda"/>
<rect x="804.20" y="267.82" width="18.70" height="15.47" fill="#344cda"/>
<rect x="822.30" y="267.82" width="18.70" height="15.47" fill="#344cda"/>
<rect x="840.40" y="267.82" width="18.70" height="15.47" fill="#1a2ed8"/>
<rect x="858.50" y="267.82" width="18.70" height="15.47" fill="#2080e8"/>
<rect x="876.60" y="267.82" width="18.70" height="15.47" fill="#32d4f4"/>
<rect x="894.70" y="267.82" width="18.70" height="15.47" fill="#40e8b0"/>
<rect x="912.80" y="267.82" width="18.70" height="15.47" fill="#32d4f4"/>
<rect x="930.90" y="267.82" width="18.70" height="15.47" fill="#2aa8ee"/>
<rect x="949.00" y="267.82" width="18.70" height="15.47" fill="#1a50e0"/>
<rect x="967.10" y="267.82" width="18.70" height="15.47" fill="#1a50e0"/>
<rect x="985.20" y="267.82" width="18.70" height="15.47" fill="#1a50e0"/>
<rect x="1003.30" y="267.82" width="18.70" height="15.47" fill="#2080e8"/>
<rect x="1021.40" y="267.82" width="18.70" height="15.47" fill="#32d4f4"/>
<rect x="1039.50" y="267.82" width="18.70" height="15.47" fill="#40e8b0"/>
<rect x="1057.60" y="267.82" width="18.70" height="15.47" fill="#58f400"/>
<rect x="1075.70" y="267.82" width="18.70" height="15.47" fill="#88f000"/>
<rect x="1093.80" y="267.82" width="18.70" height="15.47" fill="#b8f000"/>
<rect x="1111.90" y="267.82" width="18.70" height="15.47" fill="#b8f000"/>
<rect x="1130.00" y="267.82" width="18.70" height="15.47" fill="#88f000"/>
<rect x="1148.10" y="267.82" width="18.70" height="15.47" fill="#58f400"/>
<rect x="1166.20" y="267.82" width="18.70" height="15.47" fill="#32d4f4"/>
<rect x="1184.30" y="267.82" width="18.70" height="15.47" fill="#1a50e0"/>
<rect x="1202.40" y="267.82" width="13.70" height="15.47" fill="#344cda"/>
<rect x="315.50" y="282.69" width="18.70" height="15.47" fill="#5068dc"/>
<rect x="333.60" y="282.69" width="18.70" height="15.47" fill="#1a2ed8"/>
<rect x="351.70" y="282.69" width="18.70" height="15.47" fill="#2080e8"/>
<rect x="369.80" y="282.69" width="18.70" height="15.47" fill="#32d4f4"/>
<rect x="387.90" y="282.69" width="18.70" height="15.47" fill="#32d4f4"/>
<rect x="406.00" y="282.69" width="18.70" height="15.47" fill="#40e8b0"/>
<rect x="424.10" y="282.69" width="18.70" height="15.47" fill="#32d4f4"/>
<rect x="442.20" y="282.69" width="18.70" height="15.47" fill="#32d4f4"/>
<rect x="460.30" y="282.69" width="18.70" height="15.47" fill="#2aa8ee"/>
<rect x="478.40" y="282.69" width="18.70" height="15.47" fill="#2080e8"/>
<rect x="496.50" y="282.69" width="18.70" height="15.47" fill="#2080e8"/>
<rect x="514.60" y="282.69" width="18.70" height="15.47" fill="#1a2ed8"/>
<rect x="532.70" y="282.69" width="18.70" height="15.47" fill="#344cda"/>
<rect x="550.80" y="282.69" width="18.70" height="15.47" fill="#5068dc"/>
<rect x="568.90" y="282.69" width="18.70" height="15.47" fill="#5068dc"/>
<rect x="587.00" y="282.69" width="18.70" height="15.47" fill="#1a2ed8"/>
<rect x="605.10" y="282.69" width="18.70" height="15.47" fill="#1a50e0"/>
<rect x="623.20" y="282.69" width="18.70" height="15.47" fill="#2080e8"/>
<rect x="641.30" y="282.69" width="18.70" height="15.47" fill="#2aa8ee"/>
<rect x="659.40" y="282.69" width="18.70" height="15.47" fill="#32d4f4"/>
<rect x="677.50" y="282.69" width="18.70" height="15.47" fill="#32d4f4"/>
<rect x="695.60" y="282.69" width="18.70" height="15.47" fill="#40e8b0"/>
<rect x="713.70" y="282.69" width="18.70" height="15.47" fill="#2aa8ee"/>
<rect x="731.80" y="282.69" width="18.70" height="15.47" fill="#2080e8"/>
<rect x="749.90" y="282.69" width="18.70" height="15.47" fill="#1a50e0"/>
<rect x="768.00" y="282.69" width="18.70" height="15.47" fill="#1a2ed8"/>
<rect x="786.10" y="282.69" width="18.70" height="15.47" fill="#5068dc"/>
<rect x="804.20" y="282.69" width="18.70" height="15.47" fill="#5068dc"/>
<rect x="822.30" y="282.69" width="18.70" height="15.47" fill="#344cda"/>
<rect x="840.40" y="282.69" width="18.70" height="15.47" fill="#1a2ed8"/>
<rect x="858.50" y="282.69" width="18.70" height="15.47" fill="#1a50e0"/>
<rect x="876.60" y="282.69" width="18.70" height="15.47" fill="#2080e8"/>
<rect x="894.70" y="282.69" width="18.70" height="15.47" fill="#2080e8"/>
<rect x="912.80" y="282.69" width="18.70" height="15.47" fill="#2080e8"/>
<rect x="930.90" y="282.69" width="18.70" height="15.47" fill="#1a50e0"/>
<rect x="949.00" y="282.69" width="18.70" height="15.47" fill="#1a2ed8"/>
<rect x="967.10" y="282.69" width="18.70" height="15.47" fill="#1a2ed8"/>
<rect x="985.20" y="282.69" width="18.70" height="15.47" fill="#1a2ed8"/>
<rect x="1003.30" y="282.69" width="18.70" height="15.47" fill="#1a2ed8"/>
<rect x="1021.40" y="282.69" width="18.70" height="15.47" fill="#2080e8"/>
<rect x="1039.50" y="282.69" width="18.70" height="15.47" fill="#32d4f4"/>
<rect x="1057.60" y="282.69" width="18.70" height="15.47" fill="#48ec70"/>
<rect x="1075.70" y="282.69" width="18.70" height="15.47" fill="#58f400"/>
<rect x="1093.80" y="282.69" width="18.70" height="15.47" fill="#58f400"/>
<rect x="1111.90" y="282.69" width="18.70" height="15.47" fill="#58f400"/>
<rect x="1130.00" y="282.69" width="18.70" height="15.47" fill="#58f400"/>
<rect x="1148.10" y="282.69" width="18.70" height="15.47" fill="#48ec70"/>
<rect x="1166.20" y="282.69" width="18.70" height="15.47" fill="#2080e8"/>
<rect x="1184.30" y="282.69" width="18.70" height="15.47" fill="#1a2ed8"/>
<rect x="1202.40" y="282.69" width="13.70" height="15.47" fill="#5068dc"/>
<rect x="315.50" y="297.56" width="18.70" height="15.47" fill="#5068dc"/>
<rect x="333.60" y="297.56" width="18.70" height="15.47" fill="#1a2ed8"/>
<rect x="351.70" y="297.56" width="18.70" height="15.47" fill="#1a2ed8"/>
<rect x="369.80" y="297.56" width="18.70" height="15.47" fill="#2080e8"/>
<rect x="387.90" y="297.56" width="18.70" height="15.47" fill="#2080e8"/>
<rect x="406.00" y="297.56" width="18.70" height="15.47" fill="#2080e8"/>
<rect x="424.10" y="297.56" width="18.70" height="15.47" fill="#2080e8"/>
<rect x="442.20" y="297.56" width="18.70" height="15.47" fill="#2080e8"/>
<rect x="460.30" y="297.56" width="18.70" height="15.47" fill="#1a50e0"/>
<rect x="478.40" y="297.56" width="18.70" height="15.47" fill="#1a2ed8"/>
<rect x="496.50" y="297.56" width="18.70" height="15.47" fill="#1a2ed8"/>
<rect x="514.60" y="297.56" width="18.70" height="15.47" fill="#344cda"/>
<rect x="532.70" y="297.56" width="18.70" height="15.47" fill="#5068dc"/>
<rect x="550.80" y="297.56" width="18.70" height="15.47" fill="#5068dc"/>
<rect x="568.90" y="297.56" width="18.70" height="15.47" fill="#5068dc"/>
<rect x="587.00" y="297.56" width="18.70" height="15.47" fill="#344cda"/>
<rect x="605.10" y="297.56" width="18.70" height="15.47" fill="#1a2ed8"/>
<rect x="623.20" y="297.56" width="18.70" height="15.47" fill="#1a50e0"/>
<rect x="641.30" y="297.56" width="18.70" height="15.47" fill="#2080e8"/>
<rect x="659.40" y="297.56" width="18.70" height="15.47" fill="#2080e8"/>
<rect x="677.50" y="297.56" width="18.70" height="15.47" fill="#2080e8"/>
<rect x="695.60" y="297.56" width="18.70" height="15.47" fill="#2080e8"/>
<rect x="713.70" y="297.56" width="18.70" height="15.47" fill="#1a50e0"/>
<rect x="731.80" y="297.56" width="18.70" height="15.47" fill="#1a2ed8"/>
<rect x="749.90" y="297.56" width="18.70" height="15.47" fill="#1a2ed8"/>
<rect x="768.00" y="297.56" width="18.70" height="15.47" fill="#344cda"/>
<rect x="786.10" y="297.56" width="18.70" height="15.47" fill="#5068dc"/>
<rect x="804.20" y="297.56" width="18.70" height="15.47" fill="#7088e2"/>
<rect x="822.30" y="297.56" width="18.70" height="15.47" fill="#5068dc"/>
<rect x="840.40" y="297.56" width="18.70" height="15.47" fill="#344cda"/>
<rect x="858.50" y="297.56" width="18.70" height="15.47" fill="#1a2ed8"/>
<rect x="876.60" y="297.56" width="18.70" height="15.47" fill="#1a2ed8"/>
<rect x="894.70" y="297.56" width="18.70" height="15.47" fill="#1a2ed8"/>
<rect x="912.80" y="297.56" width="18.70" height="15.47" fill="#1a2ed8"/>
<rect x="930.90" y="297.56" width="18.70" height="15.47" fill="#344cda"/>
<rect x="949.00" y="297.56" width="18.70" height="15.47" fill="#344cda"/>
<rect x="967.10" y="297.56" width="18.70" height="15.47" fill="#344cda"/>
<rect x="985.20" y="297.56" width="18.70" height="15.47" fill="#344cda"/>
<rect x="1003.30" y="297.56" width="18.70" height="15.47" fill="#344cda"/>
<rect x="1021.40" y="297.56" width="18.70" height="15.47" fill="#1a2ed8"/>
<rect x="1039.50" y="297.56" width="18.70" height="15.47" fill="#2080e8"/>
<rect x="1057.60" y="297.56" width="18.70" height="15.47" fill="#2aa8ee"/>
<rect x="1075.70" y="297.56" width="18.70" height="15.47" fill="#32d4f4"/>
<rect x="1093.80" y="297.56" width="18.70" height="15.47" fill="#48ec70"/>
<rect x="1111.90" y="297.56" width="18.70" height="15.47" fill="#48ec70"/>
<rect x="1130.00" y="297.56" width="18.70" height="15.47" fill="#32d4f4"/>
<rect x="1148.10" y="297.56" width="18.70" height="15.47" fill="#2aa8ee"/>
<rect x="1166.20" y="297.56" width="18.70" height="15.47" fill="#1a2ed8"/>
<rect x="1184.30" y="297.56" width="18.70" height="15.47" fill="#344cda"/>
<rect x="1202.40" y="297.56" width="13.70" height="15.47" fill="#7088e2"/>
<rect x="315.50" y="312.43" width="18.70" height="15.47" fill="#7088e2"/>
<rect x="333.60" y="312.43" width="18.70" height="15.47" fill="#5068dc"/>
<rect x="351.70" y="312.43" width="18.70" height="15.47" fill="#1a2ed8"/>
<rect x="369.80" y="312.43" width="18.70" height="15.47" fill="#1a2ed8"/>
<rect x="387.90" y="312.43" width="18.70" height="15.47" fill="#1a2ed8"/>
<rect x="406.00" y="312.43" width="18.70" height="15.47" fill="#1a2ed8"/>
<rect x="424.10" y="312.43" width="18.70" height="15.47" fill="#1a2ed8"/>
<rect x="442.20" y="312.43" width="18.70" height="15.47" fill="#344cda"/>
<rect x="460.30" y="312.43" width="18.70" height="15.47" fill="#344cda"/>
<rect x="478.40" y="312.43" width="18.70" height="15.47" fill="#5068dc"/>
<rect x="496.50" y="312.43" width="18.70" height="15.47" fill="#5068dc"/>
<rect x="514.60" y="312.43" width="18.70" height="15.47" fill="#5068dc"/>
<rect x="532.70" y="312.43" width="18.70" height="15.47" fill="#7088e2"/>
<rect x="550.80" y="312.43" width="18.70" height="15.47" fill="#7088e2"/>
<rect x="568.90" y="312.43" width="18.70" height="15.47" fill="#7088e2"/>
<rect x="587.00" y="312.43" width="18.70" height="15.47" fill="#5068dc"/>
<rect x="605.10" y="312.43" width="18.70" height="15.47" fill="#344cda"/>
<rect x="623.20" y="312.43" width="18.70" height="15.47" fill="#1a2ed8"/>
<rect x="641.30" y="312.43" width="18.70" height="15.47" fill="#1a2ed8"/>
<rect x="659.40" y="312.43" width="18.70" height="15.47" fill="#1a2ed8"/>
<rect x="677.50" y="312.43" width="18.70" height="15.47" fill="#1a2ed8"/>
<rect x="695.60" y="312.43" width="18.70" height="15.47" fill="#1a2ed8"/>
<rect x="713.70" y="312.43" width="18.70" height="15.47" fill="#1a2ed8"/>
<rect x="731.80" y="312.43" width="18.70" height="15.47" fill="#344cda"/>
<rect x="749.90" y="312.43" width="18.70" height="15.47" fill="#5068dc"/>
<rect x="768.00" y="312.43" width="18.70" height="15.47" fill="#5068dc"/>
<rect x="786.10" y="312.43" width="18.70" height="15.47" fill="#7088e2"/>
<rect x="804.20" y="312.43" width="18.70" height="15.47" fill="#7088e2"/>
<rect x="822.30" y="312.43" width="18.70" height="15.47" fill="#7088e2"/>
<rect x="840.40" y="312.43" width="18.70" height="15.47" fill="#5068dc"/>
<rect x="858.50" y="312.43" width="18.70" height="15.47" fill="#344cda"/>
<rect x="876.60" y="312.43" width="18.70" height="15.47" fill="#344cda"/>
<rect x="894.70" y="312.43" width="18.70" height="15.47" fill="#344cda"/>
<rect x="912.80" y="312.43" width="18.70" height="15.47" fill="#344cda"/>
<rect x="930.90" y="312.43" width="18.70" height="15.47" fill="#7088e2"/>
<rect x="949.00" y="312.43" width="18.70" height="15.47" fill="#7088e2"/>
<rect x="967.10" y="312.43" width="18.70" height="15.47" fill="#7088e2"/>
<rect x="985.20" y="312.43" width="18.70" height="15.47" fill="#7088e2"/>
<rect x="1003.30" y="312.43" width="18.70" height="15.47" fill="#7088e2"/>
<rect x="1021.40" y="312.43" width="18.70" height="15.47" fill="#344cda"/>
<rect x="1039.50" y="312.43" width="18.70" height="15.47" fill="#1a2ed8"/>
<rect x="1057.60" y="312.43" width="18.70" height="15.47" fill="#1a50e0"/>
<rect x="1075.70" y="312.43" width="18.70" height="15.47" fill="#2080e8"/>
<rect x="1093.80" y="312.43" width="18.70" height="15.47" fill="#2aa8ee"/>
<rect x="1111.90" y="312.43" width="18.70" height="15.47" fill="#2aa8ee"/>
<rect x="1130.00" y="312.43" width="18.70" height="15.47" fill="#2080e8"/>
<rect x="1148.10" y="312.43" width="18.70" height="15.47" fill="#1a2ed8"/>
<rect x="1166.20" y="312.43" width="18.70" height="15.47" fill="#344cda"/>
<rect x="1184.30" y="312.43" width="18.70" height="15.47" fill="#7088e2"/>
<rect x="1202.40" y="312.43" width="13.70" height="15.47" fill="#8c9fe6"/>
<rect x="315.50" y="327.30" width="18.70" height="15.47" fill="#7088e2"/>
<rect x="333.60" y="327.30" width="18.70" height="15.47" fill="#7088e2"/>
<rect x="351.70" y="327.30" width="18.70" height="15.47" fill="#344cda"/>
<rect x="369.80" y="327.30" width="18.70" height="15.47" fill="#344cda"/>
<rect x="387.90" y="327.30" width="18.70" height="15.47" fill="#344cda"/>
<rect x="406.00" y="327.30" width="18.70" height="15.47" fill="#344cda"/>
<rect x="424.10" y="327.30" width="18.70" height="15.47" fill="#7088e2"/>
<rect x="442.20" y="327.30" width="18.70" height="15.47" fill="#7088e2"/>
<rect x="460.30" y="327.30" width="18.70" height="15.47" fill="#8c9fe6"/>
<rect x="478.40" y="327.30" width="18.70" height="15.47" fill="#8c9fe6"/>
<rect x="496.50" y="327.30" width="18.70" height="15.47" fill="#8c9fe6"/>
<rect x="514.60" y="327.30" width="18.70" height="15.47" fill="#8c9fe6"/>
<rect x="532.70" y="327.30" width="18.70" height="15.47" fill="#8c9fe6"/>
<rect x="550.80" y="327.30" width="18.70" height="15.47" fill="#8c9fe6"/>
<rect x="568.90" y="327.30" width="18.70" height="15.47" fill="#8c9fe6"/>
<rect x="587.00" y="327.30" width="18.70" height="15.47" fill="#7088e2"/>
<rect x="605.10" y="327.30" width="18.70" height="15.47" fill="#5068dc"/>
<rect x="623.20" y="327.30" width="18.70" height="15.47" fill="#344cda"/>
<rect x="641.30" y="327.30" width="18.70" height="15.47" fill="#344cda"/>
<rect x="659.40" y="327.30" width="18.70" height="15.47" fill="#1a2ed8"/>
<rect x="677.50" y="327.30" width="18.70" height="15.47" fill="#344cda"/>
<rect x="695.60" y="327.30" width="18.70" height="15.47" fill="#344cda"/>
<rect x="713.70" y="327.30" width="18.70" height="15.47" fill="#344cda"/>
<rect x="731.80" y="327.30" width="18.70" height="15.47" fill="#5068dc"/>
<rect x="749.90" y="327.30" width="18.70" height="15.47" fill="#7088e2"/>
<rect x="768.00" y="327.30" width="18.70" height="15.47" fill="#7088e2"/>
<rect x="786.10" y="327.30" width="18.70" height="15.47" fill="#7088e2"/>
<rect x="804.20" y="327.30" width="18.70" height="15.47" fill="#8c9fe6"/>
<rect x="822.30" y="327.30" width="18.70" height="15.47" fill="#7088e2"/>
<rect x="840.40" y="327.30" width="18.70" height="15.47" fill="#7088e2"/>
<rect x="858.50" y="327.30" width="18.70" height="15.47" fill="#7088e2"/>
<rect x="876.60" y="327.30" width="18.70" height="15.47" fill="#5068dc"/>
<rect x="894.70" y="327.30" width="18.70" height="15.47" fill="#5068dc"/>
<rect x="912.80" y="327.30" width="18.70" height="15.47" fill="#7088e2"/>
<rect x="930.90" y="327.30" width="18.70" height="15.47" fill="#7088e2"/>
<rect x="949.00" y="327.30" width="18.70" height="15.47" fill="#7088e2"/>
<rect x="967.10" y="327.30" width="18.70" height="15.47" fill="#8c9fe6"/>
<rect x="985.20" y="327.30" width="18.70" height="15.47" fill="#8c9fe6"/>
<rect x="1003.30" y="327.30" width="18.70" height="15.47" fill="#8c9fe6"/>
<rect x="1021.40" y="327.30" width="18.70" height="15.47" fill="#5068dc"/>
<rect x="1039.50" y="327.30" width="18.70" height="15.47" fill="#5068dc"/>
<rect x="1057.60" y="327.30" width="18.70" height="15.47" fill="#1a2ed8"/>
<rect x="1075.70" y="327.30" width="18.70" height="15.47" fill="#1a2ed8"/>
<rect x="1093.80" y="327.30" width="18.70" height="15.47" fill="#1a50e0"/>
<rect x="1111.90" y="327.30" width="18.70" height="15.47" fill="#1a2ed8"/>
<rect x="1130.00" y="327.30" width="18.70" height="15.47" fill="#1a2ed8"/>
<rect x="1148.10" y="327.30" width="18.70" height="15.47" fill="#344cda"/>
<rect x="1166.20" y="327.30" width="18.70" height="15.47" fill="#5068dc"/>
<rect x="1184.30" y="327.30" width="18.70" height="15.47" fill="#7088e2"/>
<rect x="1202.40" y="327.30" width="13.70" height="15.47" fill="#8c9fe6"/>
<rect x="315.50" y="342.17" width="18.70" height="15.47" fill="#8c9fe6"/>
<rect x="333.60" y="342.17" width="18.70" height="15.47" fill="#8c9fe6"/>
<rect x="351.70" y="342.17" width="18.70" height="15.47" fill="#7088e2"/>
<rect x="369.80" y="342.17" width="18.70" height="15.47" fill="#5068dc"/>
<rect x="387.90" y="342.17" width="18.70" height="15.47" fill="#7088e2"/>
<rect x="406.00" y="342.17" width="18.70" height="15.47" fill="#7088e2"/>
<rect x="424.10" y="342.17" width="18.70" height="15.47" fill="#8c9fe6"/>
<rect x="442.20" y="342.17" width="18.70" height="15.47" fill="#8c9fe6"/>
<rect x="460.30" y="342.17" width="18.70" height="15.47" fill="#a8b6ec"/>
<rect x="478.40" y="342.17" width="18.70" height="15.47" fill="#8c9fe6"/>
<rect x="496.50" y="342.17" width="18.70" height="15.47" fill="#8c9fe6"/>
<rect x="514.60" y="342.17" width="18.70" height="15.47" fill="#8c9fe6"/>
<rect x="532.70" y="342.17" width="18.70" height="15.47" fill="#8c9fe6"/>
<rect x="550.80" y="342.17" width="18.70" height="15.47" fill="#8c9fe6"/>
<rect x="568.90" y="342.17" width="18.70" height="15.47" fill="#8c9fe6"/>
<rect x="587.00" y="342.17" width="18.70" height="15.47" fill="#7088e2"/>
<rect x="605.10" y="342.17" width="18.70" height="15.47" fill="#5068dc"/>
<rect x="623.20" y="342.17" width="18.70" height="15.47" fill="#5068dc"/>
<rect x="641.30" y="342.17" width="18.70" height="15.47" fill="#344cda"/>
<rect x="659.40" y="342.17" width="18.70" height="15.47" fill="#344cda"/>
<rect x="677.50" y="342.17" width="18.70" height="15.47" fill="#344cda"/>
<rect x="695.60" y="342.17" width="18.70" height="15.47" fill="#344cda"/>
<rect x="713.70" y="342.17" width="18.70" height="15.47" fill="#5068dc"/>
<rect x="731.80" y="342.17" width="18.70" height="15.47" fill="#5068dc"/>
<rect x="749.90" y="342.17" width="18.70" height="15.47" fill="#7088e2"/>
<rect x="768.00" y="342.17" width="18.70" height="15.47" fill="#7088e2"/>
<rect x="786.10" y="342.17" width="18.70" height="15.47" fill="#8c9fe6"/>
<rect x="804.20" y="342.17" width="18.70" height="15.47" fill="#7088e2"/>
<rect x="822.30" y="342.17" width="18.70" height="15.47" fill="#8c9fe6"/>
<rect x="840.40" y="342.17" width="18.70" height="15.47" fill="#8c9fe6"/>
<rect x="858.50" y="342.17" width="18.70" height="15.47" fill="#8c9fe6"/>
<rect x="876.60" y="342.17" width="18.70" height="15.47" fill="#8c9fe6"/>
<rect x="894.70" y="342.17" width="18.70" height="15.47" fill="#7088e2"/>
<rect x="912.80" y="342.17" width="18.70" height="15.47" fill="#7088e2"/>
<rect x="930.90" y="342.17" width="18.70" height="15.47" fill="#8c9fe6"/>
<rect x="949.00" y="342.17" width="18.70" height="15.47" fill="#8c9fe6"/>
<rect x="967.10" y="342.17" width="18.70" height="15.47" fill="#8c9fe6"/>
<rect x="985.20" y="342.17" width="18.70" height="15.47" fill="#8c9fe6"/>
<rect x="1003.30" y="342.17" width="18.70" height="15.47" fill="#8c9fe6"/>
<rect x="1021.40" y="342.17" width="18.70" height="15.47" fill="#7088e2"/>
<rect x="1039.50" y="342.17" width="18.70" height="15.47" fill="#7088e2"/>
<rect x="1057.60" y="342.17" width="18.70" height="15.47" fill="#5068dc"/>
<rect x="1075.70" y="342.17" width="18.70" height="15.47" fill="#344cda"/>
<rect x="1093.80" y="342.17" width="18.70" height="15.47" fill="#344cda"/>
<rect x="1111.90" y="342.17" width="18.70" height="15.47" fill="#344cda"/>
<rect x="1130.00" y="342.17" width="18.70" height="15.47" fill="#5068dc"/>
<rect x="1148.10" y="342.17" width="18.70" height="15.47" fill="#5068dc"/>
<rect x="1166.20" y="342.17" width="18.70" height="15.47" fill="#5068dc"/>
<rect x="1184.30" y="342.17" width="18.70" height="15.47" fill="#7088e2"/>
<rect x="1202.40" y="342.17" width="13.70" height="15.47" fill="#8c9fe6"/>
<rect x="315.50" y="357.04" width="18.70" height="15.47" fill="#c2ccf0"/>
<rect x="333.60" y="357.04" width="18.70" height="15.47" fill="#a8b6ec"/>
<rect x="351.70" y="357.04" width="18.70" height="15.47" fill="#a8b6ec"/>
<rect x="369.80" y="357.04" width="18.70" height="15.47" fill="#8c9fe6"/>
<rect x="387.90" y="357.04" width="18.70" height="15.47" fill="#8c9fe6"/>
<rect x="406.00" y="357.04" width="18.70" height="15.47" fill="#8c9fe6"/>
<rect x="424.10" y="357.04" width="18.70" height="15.47" fill="#8c9fe6"/>
<rect x="442.20" y="357.04" width="18.70" height="15.47" fill="#a8b6ec"/>
<rect x="460.30" y="357.04" width="18.70" height="15.47" fill="#8c9fe6"/>
<rect x="478.40" y="357.04" width="18.70" height="15.47" fill="#7088e2"/>
<rect x="496.50" y="357.04" width="18.70" height="15.47" fill="#7088e2"/>
<rect x="514.60" y="357.04" width="18.70" height="15.47" fill="#8c9fe6"/>
<rect x="532.70" y="357.04" width="18.70" height="15.47" fill="#7088e2"/>
<rect x="550.80" y="357.04" width="18.70" height="15.47" fill="#7088e2"/>
<rect x="568.90" y="357.04" width="18.70" height="15.47" fill="#7088e2"/>
<rect x="587.00" y="357.04" width="18.70" height="15.47" fill="#7088e2"/>
<rect x="605.10" y="357.04" width="18.70" height="15.47" fill="#5068dc"/>
<rect x="623.20" y="357.04" width="18.70" height="15.47" fill="#5068dc"/>
<rect x="641.30" y="357.04" width="18.70" height="15.47" fill="#5068dc"/>
<rect x="659.40" y="357.04" width="18.70" height="15.47" fill="#344cda"/>
<rect x="677.50" y="357.04" width="18.70" height="15.47" fill="#5068dc"/>
<rect x="695.60" y="357.04" width="18.70" height="15.47" fill="#5068dc"/>
<rect x="713.70" y="357.04" width="18.70" height="15.47" fill="#5068dc"/>
<rect x="731.80" y="357.04" width="18.70" height="15.47" fill="#7088e2"/>
<rect x="749.90" y="357.04" width="18.70" height="15.47" fill="#8c9fe6"/>
<rect x="768.00" y="357.04" width="18.70" height="15.47" fill="#8c9fe6"/>
<rect x="786.10" y="357.04" width="18.70" height="15.47" fill="#8c9fe6"/>
<rect x="804.20" y="357.04" width="18.70" height="15.47" fill="#8c9fe6"/>
<rect x="822.30" y="357.04" width="18.70" height="15.47" fill="#8c9fe6"/>
<rect x="840.40" y="357.04" width="18.70" height="15.47" fill="#8c9fe6"/>
<rect x="858.50" y="357.04" width="18.70" height="15.47" fill="#8c9fe6"/>
<rect x="876.60" y="357.04" width="18.70" height="15.47" fill="#8c9fe6"/>
<rect x="894.70" y="357.04" width="18.70" height="15.47" fill="#8c9fe6"/>
<rect x="912.80" y="357.04" width="18.70" height="15.47" fill="#8c9fe6"/>
<rect x="930.90" y="357.04" width="18.70" height="15.47" fill="#8c9fe6"/>
<rect x="949.00" y="357.04" width="18.70" height="15.47" fill="#8c9fe6"/>
<rect x="967.10" y="357.04" width="18.70" height="15.47" fill="#8c9fe6"/>
<rect x="985.20" y="357.04" width="18.70" height="15.47" fill="#8c9fe6"/>
<rect x="1003.30" y="357.04" width="18.70" height="15.47" fill="#8c9fe6"/>
<rect x="1021.40" y="357.04" width="18.70" height="15.47" fill="#7088e2"/>
<rect x="1039.50" y="357.04" width="18.70" height="15.47" fill="#7088e2"/>
<rect x="1057.60" y="357.04" width="18.70" height="15.47" fill="#7088e2"/>
<rect x="1075.70" y="357.04" width="18.70" height="15.47" fill="#5068dc"/>
<rect x="1093.80" y="357.04" width="18.70" height="15.47" fill="#5068dc"/>
<rect x="1111.90" y="357.04" width="18.70" height="15.47" fill="#5068dc"/>
<rect x="1130.00" y="357.04" width="18.70" height="15.47" fill="#5068dc"/>
<rect x="1148.10" y="357.04" width="18.70" height="15.47" fill="#5068dc"/>
<rect x="1166.20" y="357.04" width="18.70" height="15.47" fill="#5068dc"/>
<rect x="1184.30" y="357.04" width="18.70" height="15.47" fill="#5068dc"/>
<rect x="1202.40" y="357.04" width="13.70" height="15.47" fill="#5068dc"/>
<rect x="315.50" y="371.91" width="18.70" height="15.47" fill="#c2ccf0"/>
<rect x="333.60" y="371.91" width="18.70" height="15.47" fill="#c2ccf0"/>
<rect x="351.70" y="371.91" width="18.70" height="15.47" fill="#a8b6ec"/>
<rect x="369.80" y="371.91" width="18.70" height="15.47" fill="#a8b6ec"/>
<rect x="387.90" y="371.91" width="18.70" height="15.47" fill="#a8b6ec"/>
<rect x="406.00" y="371.91" width="18.70" height="15.47" fill="#8c9fe6"/>
<rect x="424.10" y="371.91" width="18.70" height="15.47" fill="#8c9fe6"/>
<rect x="442.20" y="371.91" width="18.70" height="15.47" fill="#7088e2"/>
<rect x="460.30" y="371.91" width="18.70" height="15.47" fill="#7088e2"/>
<rect x="478.40" y="371.91" width="18.70" height="15.47" fill="#7088e2"/>
<rect x="496.50" y="371.91" width="18.70" height="15.47" fill="#7088e2"/>
<rect x="514.60" y="371.91" width="18.70" height="15.47" fill="#7088e2"/>
<rect x="532.70" y="371.91" width="18.70" height="15.47" fill="#7088e2"/>
<rect x="550.80" y="371.91" width="18.70" height="15.47" fill="#7088e2"/>
<rect x="568.90" y="371.91" width="18.70" height="15.47" fill="#7088e2"/>
<rect x="587.00" y="371.91" width="18.70" height="15.47" fill="#7088e2"/>
<rect x="605.10" y="371.91" width="18.70" height="15.47" fill="#7088e2"/>
<rect x="623.20" y="371.91" width="18.70" height="15.47" fill="#5068dc"/>
<rect x="641.30" y="371.91" width="18.70" height="15.47" fill="#5068dc"/>
<rect x="659.40" y="371.91" width="18.70" height="15.47" fill="#344cda"/>
<rect x="677.50" y="371.91" width="18.70" height="15.47" fill="#344cda"/>
<rect x="695.60" y="371.91" width="18.70" height="15.47" fill="#5068dc"/>
<rect x="713.70" y="371.91" width="18.70" height="15.47" fill="#5068dc"/>
<rect x="731.80" y="371.91" width="18.70" height="15.47" fill="#7088e2"/>
<rect x="749.90" y="371.91" width="18.70" height="15.47" fill="#7088e2"/>
<rect x="768.00" y="371.91" width="18.70" height="15.47" fill="#8c9fe6"/>
<rect x="786.10" y="371.91" width="18.70" height="15.47" fill="#8c9fe6"/>
<rect x="804.20" y="371.91" width="18.70" height="15.47" fill="#8c9fe6"/>
<rect x="822.30" y="371.91" width="18.70" height="15.47" fill="#8c9fe6"/>
<rect x="840.40" y="371.91" width="18.70" height="15.47" fill="#8c9fe6"/>
<rect x="858.50" y="371.91" width="18.70" height="15.47" fill="#8c9fe6"/>
<rect x="876.60" y="371.91" width="18.70" height="15.47" fill="#8c9fe6"/>
<rect x="894.70" y="371.91" width="18.70" height="15.47" fill="#8c9fe6"/>
<rect x="912.80" y="371.91" width="18.70" height="15.47" fill="#8c9fe6"/>
<rect x="930.90" y="371.91" width="18.70" height="15.47" fill="#8c9fe6"/>
<rect x="949.00" y="371.91" width="18.70" height="15.47" fill="#7088e2"/>
<rect x="967.10" y="371.91" width="18.70" height="15.47" fill="#8c9fe6"/>
<rect x="985.20" y="371.91" width="18.70" height="15.47" fill="#8c9fe6"/>
<rect x="1003.30" y="371.91" width="18.70" height="15.47" fill="#8c9fe6"/>
<rect x="1021.40" y="371.91" width="18.70" height="15.47" fill="#8c9fe6"/>
<rect x="1039.50" y="371.91" width="18.70" height="15.47" fill="#7088e2"/>
<rect x="1057.60" y="371.91" width="18.70" height="15.47" fill="#7088e2"/>
<rect x="1075.70" y="371.91" width="18.70" height="15.47" fill="#7088e2"/>
<rect x="1093.80" y="371.91" width="18.70" height="15.47" fill="#7088e2"/>
<rect x="1111.90" y="371.91" width="18.70" height="15.47" fill="#7088e2"/>
<rect x="1130.00" y="371.91" width="18.70" height="15.47" fill="#5068dc"/>
<rect x="1148.10" y="371.91" width="18.70" height="15.47" fill="#5068dc"/>
<rect x="1166.20" y="371.91" width="18.70" height="15.47" fill="#344cda"/>
<rect x="1184.30" y="371.91" width="18.70" height="15.47" fill="#344cda"/>
<rect x="1202.40" y="371.91" width="13.70" height="15.47" fill="#5068dc"/>
<rect x="315.50" y="386.78" width="18.70" height="15.47" fill="#c2ccf0"/>
<rect x="333.60" y="386.78" width="18.70" height="15.47" fill="#a8b6ec"/>
<rect x="351.70" y="386.78" width="18.70" height="15.47" fill="#8c9fe6"/>
<rect x="369.80" y="386.78" width="18.70" height="15.47" fill="#7088e2"/>
<rect x="387.90" y="386.78" width="18.70" height="15.47" fill="#7088e2"/>
<rect x="406.00" y="386.78" width="18.70" height="15.47" fill="#8c9fe6"/>
<rect x="424.10" y="386.78" width="18.70" height="15.47" fill="#8c9fe6"/>
<rect x="442.20" y="386.78" width="18.70" height="15.47" fill="#8c9fe6"/>
<rect x="460.30" y="386.78" width="18.70" height="15.47" fill="#8c9fe6"/>
<rect x="478.40" y="386.78" width="18.70" height="15.47" fill="#8c9fe6"/>
<rect x="496.50" y="386.78" width="18.70" height="15.47" fill="#8c9fe6"/>
<rect x="514.60" y="386.78" width="18.70" height="15.47" fill="#8c9fe6"/>
<rect x="532.70" y="386.78" width="18.70" height="15.47" fill="#8c9fe6"/>
<rect x="550.80" y="386.78" width="18.70" height="15.47" fill="#8c9fe6"/>
<rect x="568.90" y="386.78" width="18.70" height="15.47" fill="#7088e2"/>
<rect x="587.00" y="386.78" width="18.70" height="15.47" fill="#7088e2"/>
<rect x="605.10" y="386.78" width="18.70" height="15.47" fill="#7088e2"/>
<rect x="623.20" y="386.78" width="18.70" height="15.47" fill="#5068dc"/>
<rect x="641.30" y="386.78" width="18.70" height="15.47" fill="#5068dc"/>
<rect x="659.40" y="386.78" width="18.70" height="15.47" fill="#5068dc"/>
<rect x="677.50" y="386.78" width="18.70" height="15.47" fill="#5068dc"/>
<rect x="695.60" y="386.78" width="18.70" height="15.47" fill="#344cda"/>
<rect x="713.70" y="386.78" width="18.70" height="15.47" fill="#5068dc"/>
<rect x="731.80" y="386.78" width="18.70" height="15.47" fill="#7088e2"/>
<rect x="749.90" y="386.78" width="18.70" height="15.47" fill="#7088e2"/>
<rect x="768.00" y="386.78" width="18.70" height="15.47" fill="#8c9fe6"/>
<rect x="786.10" y="386.78" width="18.70" height="15.47" fill="#8c9fe6"/>
<rect x="804.20" y="386.78" width="18.70" height="15.47" fill="#8c9fe6"/>
<rect x="822.30" y="386.78" width="18.70" height="15.47" fill="#8c9fe6"/>
<rect x="840.40" y="386.78" width="18.70" height="15.47" fill="#8c9fe6"/>
<rect x="858.50" y="386.78" width="18.70" height="15.47" fill="#8c9fe6"/>
<rect x="876.60" y="386.78" width="18.70" height="15.47" fill="#8c9fe6"/>
<rect x="894.70" y="386.78" width="18.70" height="15.47" fill="#8c9fe6"/>
<rect x="912.80" y="386.78" width="18.70" height="15.47" fill="#8c9fe6"/>
<rect x="930.90" y="386.78" width="18.70" height="15.47" fill="#8c9fe6"/>
<rect x="949.00" y="386.78" width="18.70" height="15.47" fill="#8c9fe6"/>
<rect x="967.10" y="386.78" width="18.70" height="15.47" fill="#8c9fe6"/>
<rect x="985.20" y="386.78" width="18.70" height="15.47" fill="#8c9fe6"/>
<rect x="1003.30" y="386.78" width="18.70" height="15.47" fill="#8c9fe6"/>
<rect x="1021.40" y="386.78" width="18.70" height="15.47" fill="#5068dc"/>
<rect x="1039.50" y="386.78" width="18.70" height="15.47" fill="#5068dc"/>
<rect x="1057.60" y="386.78" width="18.70" height="15.47" fill="#5068dc"/>
<rect x="1075.70" y="386.78" width="18.70" height="15.47" fill="#5068dc"/>
<rect x="1093.80" y="386.78" width="18.70" height="15.47" fill="#5068dc"/>
<rect x="1111.90" y="386.78" width="18.70" height="15.47" fill="#7088e2"/>
<rect x="1130.00" y="386.78" width="18.70" height="15.47" fill="#5068dc"/>
<rect x="1148.10" y="386.78" width="18.70" height="15.47" fill="#5068dc"/>
<rect x="1166.20" y="386.78" width="18.70" height="15.47" fill="#5068dc"/>
<rect x="1184.30" y="386.78" width="18.70" height="15.47" fill="#5068dc"/>
<rect x="1202.40" y="386.78" width="13.70" height="15.47" fill="#7088e2"/>
</g></g>
<path d="M190 9 H221 V7 H318.6 V426 H190 Z" fill="#fdd400"/>
<rect x="318.6" y="30" width="2.2" height="371" fill="#9c9cc4" opacity="0.75"/>
<line x1="88" y1="426.3" x2="190" y2="426.3" stroke="#fbf6dc" stroke-width="1"/>
<text transform="translate(277.6,337) rotate(-90)" font-size="58" fill="#000" textLength="201" lengthAdjust="spacingAndGlyphs">antenna</text>
<line x1="325.9" y1="223" x2="1212" y2="223" stroke="#000" stroke-width="7" stroke-linecap="round" stroke-dasharray="28 29.2"/>
<!-- field arrow -->
<rect x="1250.5" y="112" width="15" height="186" fill="url(#shaft)"/>
<path d="M1236.8 296.6 L1279.3 296.6 L1258 354 Z" fill="url(#head)"/>
<text transform="translate(1306.5,134) rotate(90)" font-size="65" fill="#26268c" stroke="#fff" stroke-width="1.6" paint-order="normal" textLength="190" lengthAdjust="spacingAndGlyphs">26 mT</text>
<!-- double arrow -->
<rect x="370" y="433.5" width="814" height="7" fill="#000"/>
<path d="M331.5 437 L373.3 421.5 L373.3 452.9 Z" fill="#000"/>
<path d="M1223.8 437 L1180.8 421.5 L1180.8 452.9 Z" fill="#000"/>
<text x="407.5" y="500" font-size="65" fill="#000">5 μm</text>
<!-- colorbar -->
<text x="728.5" y="518" font-size="50" fill="#000">min</text>
<text x="1166" y="516" font-size="43.5" fill="#000">max</text>
<rect x="826" y="479" width="329" height="47" fill="url(#cb)"/>
<rect x="823.7" y="478" width="333.6" height="50.8" fill="none" stroke="#000" stroke-width="3.5"/>
<!-- Panel B -->
<text x="11" y="587" font-size="67" font-weight="bold">B</text>
<!-- light red grid lines -->
<g stroke="#f98c78" stroke-width="2.4">
<line x1="190" y1="756" x2="1223" y2="756"/>
<line x1="190" y1="904" x2="1223" y2="904"/>
<line x1="190" y1="1052" x2="1223" y2="1052"/>
</g>
<!-- axes -->
<g stroke="#000" fill="none">
<rect x="187" y="608.5" width="1039.3" height="589.7" stroke-width="7"/>
<line x1="228.6" y1="611" x2="228.6" y2="632" stroke-width="4"/>
<line x1="228.6" y1="1195" x2="228.6" y2="1175" stroke-width="4"/>
<line x1="270.2" y1="611" x2="270.2" y2="632" stroke-width="4"/>
<line x1="270.2" y1="1195" x2="270.2" y2="1175" stroke-width="4"/>
<line x1="311.7" y1="611" x2="311.7" y2="632" stroke-width="4"/>
<line x1="311.7" y1="1195" x2="311.7" y2="1175" stroke-width="4"/>
<line x1="353.3" y1="611" x2="353.3" y2="632" stroke-width="4"/>
<line x1="353.3" y1="1195" x2="353.3" y2="1175" stroke-width="4"/>
<line x1="394.9" y1="611" x2="394.9" y2="644" stroke-width="7"/>
<line x1="394.9" y1="1195" x2="394.9" y2="1163" stroke-width="7"/>
<line x1="436.5" y1="611" x2="436.5" y2="632" stroke-width="4"/>
<line x1="436.5" y1="1195" x2="436.5" y2="1175" stroke-width="4"/>
<line x1="478.1" y1="611" x2="478.1" y2="632" stroke-width="4"/>
<line x1="478.1" y1="1195" x2="478.1" y2="1175" stroke-width="4"/>
<line x1="519.6" y1="611" x2="519.6" y2="632" stroke-width="4"/>
<line x1="519.6" y1="1195" x2="519.6" y2="1175" stroke-width="4"/>
<line x1="561.2" y1="611" x2="561.2" y2="632" stroke-width="4"/>
<line x1="561.2" y1="1195" x2="561.2" y2="1175" stroke-width="4"/>
<line x1="602.8" y1="611" x2="602.8" y2="644" stroke-width="7"/>
<line x1="602.8" y1="1195" x2="602.8" y2="1163" stroke-width="7"/>
<line x1="644.4" y1="611" x2="644.4" y2="632" stroke-width="4"/>
<line x1="644.4" y1="1195" x2="644.4" y2="1175" stroke-width="4"/>
<line x1="686.0" y1="611" x2="686.0" y2="632" stroke-width="4"/>
<line x1="686.0" y1="1195" x2="686.0" y2="1175" stroke-width="4"/>
<line x1="727.5" y1="611" x2="727.5" y2="632" stroke-width="4"/>
<line x1="727.5" y1="1195" x2="727.5" y2="1175" stroke-width="4"/>
<line x1="769.1" y1="611" x2="769.1" y2="632" stroke-width="4"/>
<line x1="769.1" y1="1195" x2="769.1" y2="1175" stroke-width="4"/>
<line x1="810.7" y1="611" x2="810.7" y2="644" stroke-width="7"/>
<line x1="810.7" y1="1195" x2="810.7" y2="1163" stroke-width="7"/>
<line x1="852.3" y1="611" x2="852.3" y2="632" stroke-width="4"/>
<line x1="852.3" y1="1195" x2="852.3" y2="1175" stroke-width="4"/>
<line x1="893.9" y1="611" x2="893.9" y2="632" stroke-width="4"/>
<line x1="893.9" y1="1195" x2="893.9" y2="1175" stroke-width="4"/>
<line x1="935.4" y1="611" x2="935.4" y2="632" stroke-width="4"/>
<line x1="935.4" y1="1195" x2="935.4" y2="1175" stroke-width="4"/>
<line x1="977.0" y1="611" x2="977.0" y2="632" stroke-width="4"/>
<line x1="977.0" y1="1195" x2="977.0" y2="1175" stroke-width="4"/>
<line x1="1018.6" y1="611" x2="1018.6" y2="644" stroke-width="7"/>
<line x1="1018.6" y1="1195" x2="1018.6" y2="1163" stroke-width="7"/>
<line x1="1060.2" y1="611" x2="1060.2" y2="632" stroke-width="4"/>
<line x1="1060.2" y1="1195" x2="1060.2" y2="1175" stroke-width="4"/>
<line x1="1101.8" y1="611" x2="1101.8" y2="632" stroke-width="4"/>
<line x1="1101.8" y1="1195" x2="1101.8" y2="1175" stroke-width="4"/>
<line x1="1143.3" y1="611" x2="1143.3" y2="632" stroke-width="4"/>
<line x1="1143.3" y1="1195" x2="1143.3" y2="1175" stroke-width="4"/>
<line x1="1184.9" y1="611" x2="1184.9" y2="632" stroke-width="4"/>
<line x1="1184.9" y1="1195" x2="1184.9" y2="1175" stroke-width="4"/>
<line x1="190" y1="637.6" x2="210.5" y2="637.6" stroke-width="4"/>
<line x1="190" y1="667.2" x2="210.5" y2="667.2" stroke-width="4"/>
<line x1="190" y1="696.8" x2="210.5" y2="696.8" stroke-width="4"/>
<line x1="190" y1="726.4" x2="210.5" y2="726.4" stroke-width="4"/>
<line x1="190" y1="756.0" x2="222" y2="756.0" stroke-width="7"/>
<line x1="190" y1="785.6" x2="210.5" y2="785.6" stroke-width="4"/>
<line x1="190" y1="815.2" x2="210.5" y2="815.2" stroke-width="4"/>
<line x1="190" y1="844.8" x2="210.5" y2="844.8" stroke-width="4"/>
<line x1="190" y1="874.4" x2="210.5" y2="874.4" stroke-width="4"/>
<line x1="190" y1="904.0" x2="222" y2="904.0" stroke-width="7"/>
<line x1="190" y1="933.6" x2="210.5" y2="933.6" stroke-width="4"/>
<line x1="190" y1="963.2" x2="210.5" y2="963.2" stroke-width="4"/>
<line x1="190" y1="992.8" x2="210.5" y2="992.8" stroke-width="4"/>
<line x1="190" y1="1022.4" x2="210.5" y2="1022.4" stroke-width="4"/>
<line x1="190" y1="1052.0" x2="222" y2="1052.0" stroke-width="7"/>
<line x1="190" y1="1081.6" x2="210.5" y2="1081.6" stroke-width="4"/>
<line x1="190" y1="1111.2" x2="210.5" y2="1111.2" stroke-width="4"/>
<line x1="190" y1="1140.8" x2="210.5" y2="1140.8" stroke-width="4"/>
<line x1="190" y1="1170.4" x2="210.5" y2="1170.4" stroke-width="4"/>
<line x1="1223" y1="625.3" x2="1203" y2="625.3" stroke-width="4"/>
<line x1="1223" y1="642.7" x2="1191" y2="642.7" stroke-width="7"/>
<line x1="1223" y1="660.1" x2="1203" y2="660.1" stroke-width="4"/>
<line x1="1223" y1="677.5" x2="1203" y2="677.5" stroke-width="4"/>
<line x1="1223" y1="694.9" x2="1203" y2="694.9" stroke-width="4"/>
<line x1="1223" y1="712.2" x2="1191" y2="712.2" stroke-width="7"/>
<line x1="1223" y1="729.6" x2="1203" y2="729.6" stroke-width="4"/>
<line x1="1223" y1="747.0" x2="1203" y2="747.0" stroke-width="4"/>
<line x1="1223" y1="764.4" x2="1203" y2="764.4" stroke-width="4"/>
<line x1="1223" y1="781.8" x2="1191" y2="781.8" stroke-width="7"/>
<line x1="1223" y1="799.2" x2="1203" y2="799.2" stroke-width="4"/>
<line x1="1223" y1="816.6" x2="1203" y2="816.6" stroke-width="4"/>
<line x1="1223" y1="834.0" x2="1203" y2="834.0" stroke-width="4"/>
<line x1="1223" y1="851.4" x2="1191" y2="851.4" stroke-width="7"/>
<line x1="1223" y1="868.8" x2="1203" y2="868.8" stroke-width="4"/>
<line x1="1223" y1="886.1" x2="1203" y2="886.1" stroke-width="4"/>
<line x1="1223" y1="903.5" x2="1203" y2="903.5" stroke-width="4"/>
<line x1="1223" y1="920.9" x2="1191" y2="920.9" stroke-width="7"/>
<line x1="1223" y1="938.3" x2="1203" y2="938.3" stroke-width="4"/>
<line x1="1223" y1="955.7" x2="1203" y2="955.7" stroke-width="4"/>
<line x1="1223" y1="973.1" x2="1203" y2="973.1" stroke-width="4"/>
<line x1="1223" y1="990.5" x2="1191" y2="990.5" stroke-width="7"/>
<line x1="1223" y1="1007.9" x2="1203" y2="1007.9" stroke-width="4"/>
<line x1="1223" y1="1025.3" x2="1203" y2="1025.3" stroke-width="4"/>
<line x1="1223" y1="1042.7" x2="1203" y2="1042.7" stroke-width="4"/>
<line x1="1223" y1="1060.0" x2="1191" y2="1060.0" stroke-width="7"/>
<line x1="1223" y1="1077.4" x2="1203" y2="1077.4" stroke-width="4"/>
<line x1="1223" y1="1094.8" x2="1203" y2="1094.8" stroke-width="4"/>
<line x1="1223" y1="1112.2" x2="1203" y2="1112.2" stroke-width="4"/>
<line x1="1223" y1="1129.6" x2="1191" y2="1129.6" stroke-width="7"/>
<line x1="1223" y1="1147.0" x2="1203" y2="1147.0" stroke-width="4"/>
<line x1="1223" y1="1164.4" x2="1203" y2="1164.4" stroke-width="4"/>
<line x1="1223" y1="1181.8" x2="1203" y2="1181.8" stroke-width="4"/>
</g>
<!-- red series -->
<g clip-path="url(#plot)">
<g fill="rgba(240,60,30,0.2)" stroke="#fb2a0a" stroke-width="4.9">
<rect x="175.2" y="1173.2" width="23.7" height="23.7"/>
<rect x="196.4" y="1173.2" width="23.7" height="23.7"/>
<rect x="217.6" y="1172.2" width="23.7" height="23.7"/>
<rect x="238.8" y="793.1" width="23.7" height="23.7"/>
<rect x="260.0" y="712.6" width="23.7" height="23.7"/>
<rect x="281.2" y="767.4" width="23.7" height="23.7"/>
<rect x="302.4" y="739.8" width="23.7" height="23.7"/>
<rect x="323.6" y="726.5" width="23.7" height="23.7"/>
<rect x="344.9" y="749.4" width="23.7" height="23.7"/>
<rect x="366.1" y="748.1" width="23.7" height="23.7"/>
<rect x="387.3" y="745.8" width="23.7" height="23.7"/>
<rect x="408.5" y="745.8" width="23.7" height="23.7"/>
<rect x="429.7" y="751.8" width="23.7" height="23.7"/>
<rect x="450.9" y="726.5" width="23.7" height="23.7"/>
<rect x="472.1" y="667.8" width="23.7" height="23.7"/>
<rect x="493.4" y="1112.4" width="23.7" height="23.7"/>
<rect x="514.6" y="1049.0" width="23.7" height="23.7"/>
<rect x="535.8" y="1067.0" width="23.7" height="23.7"/>
<rect x="557.0" y="1050.2" width="23.7" height="23.7"/>
<rect x="578.2" y="1046.6" width="23.7" height="23.7"/>
<rect x="599.4" y="1045.4" width="23.7" height="23.7"/>
<rect x="620.6" y="1043.0" width="23.7" height="23.7"/>
<rect x="641.9" y="1042.5" width="23.7" height="23.7"/>
<rect x="663.1" y="1044.2" width="23.7" height="23.7"/>
<rect x="684.3" y="1038.9" width="23.7" height="23.7"/>
<rect x="705.5" y="1031.0" width="23.7" height="23.7"/>
<rect x="726.7" y="1028.6" width="23.7" height="23.7"/>
<rect x="747.9" y="996.6" width="23.7" height="23.7"/>
<rect x="769.1" y="1037.0" width="23.7" height="23.7"/>
<rect x="790.4" y="703.6" width="23.7" height="23.7"/>
<rect x="811.6" y="720.4" width="23.7" height="23.7"/>
<rect x="832.8" y="701.8" width="23.7" height="23.7"/>
<rect x="854.0" y="715.9" width="23.7" height="23.7"/>
<rect x="875.2" y="718.1" width="23.7" height="23.7"/>
<rect x="896.4" y="716.9" width="23.7" height="23.7"/>
<rect x="917.6" y="718.1" width="23.7" height="23.7"/>
<rect x="938.9" y="738.0" width="23.7" height="23.7"/>
<rect x="960.1" y="731.6" width="23.7" height="23.7"/>
<rect x="981.3" y="992.9" width="23.7" height="23.7"/>
<rect x="1002.5" y="1012.0" width="23.7" height="23.7"/>
<rect x="1023.7" y="1038.5" width="23.7" height="23.7"/>
<rect x="1044.9" y="1044.9" width="23.7" height="23.7"/>
<rect x="1066.1" y="1052.2" width="23.7" height="23.7"/>
<rect x="1087.4" y="1049.1" width="23.7" height="23.7"/>
<rect x="1108.6" y="1043.8" width="23.7" height="23.7"/>
<rect x="1129.8" y="1058.6" width="23.7" height="23.7"/>
<rect x="1151.0" y="1063.9" width="23.7" height="23.7"/>
<rect x="1172.2" y="1065.0" width="23.7" height="23.7"/>
<rect x="1193.4" y="1057.6" width="23.7" height="23.7"/>
<rect x="1214.6" y="1059.2" width="23.7" height="23.7"/>
</g>
<polyline points="187.0,1185.0 208.2,1185.0 229.4,1184.0 250.6,805.0 271.9,724.5 293.1,779.2 314.3,751.6 335.5,738.4 356.7,761.2 377.9,760.0 399.1,757.6 420.4,757.6 441.6,763.6 462.8,738.4 484.0,679.6 505.2,1124.2 526.4,1060.8 547.6,1078.8 568.9,1062.0 590.1,1058.4 611.3,1057.2 632.5,1054.8 653.7,1054.3 674.9,1056.0 696.1,1050.7 717.3,1042.8 738.6,1040.4 759.8,1008.5 781.0,1048.8 802.2,715.5 823.4,732.2 844.6,713.6 865.8,727.7 887.1,730.0 908.3,728.8 929.5,730.0 950.7,749.9 971.9,743.5 993.1,1004.8 1014.3,1023.9 1035.6,1050.3 1056.8,1056.7 1078.0,1064.1 1099.2,1060.9 1120.4,1055.6 1141.6,1070.4 1162.8,1075.7 1184.1,1076.8 1205.3,1069.4 1226.5,1071.0" fill="none" stroke="#fb2a0a" stroke-width="6.2" stroke-linecap="round" stroke-linejoin="round" stroke-dasharray="19 23.6" stroke-dashoffset="3"/>
<polyline points="187.0,1013.0 208.2,993.4 229.4,967.0 250.6,932.0 271.9,880.0 293.1,862.0 314.3,830.7 335.5,805.0 356.7,862.0 377.9,852.3 399.1,847.5 420.4,883.5 441.6,924.0 462.8,941.3 484.0,943.3 505.2,939.6 526.4,928.2 547.6,886.5 568.9,858.1 590.1,777.2 611.3,756.8 632.5,717.1 653.7,681.8 674.9,739.4 696.1,785.4 717.3,872.3 738.6,939.4 759.8,1004.4 781.0,1006.8 802.2,979.6 823.4,938.7 844.6,886.7 865.8,857.4 887.1,832.9 908.3,830.6 929.5,864.5 950.7,909.2 971.9,922.0 993.1,903.0 1014.3,892.4 1035.6,855.9 1056.8,783.7 1078.0,712.0 1099.2,701.2 1120.4,674.6 1141.6,667.6 1162.8,676.2 1184.1,765.0 1205.3,839.8 1226.5,934.0" fill="none" stroke="#0c3cff" stroke-width="6.4" stroke-linejoin="round"/>
<g fill="rgba(20,60,230,0.2)" stroke="#0c3cff" stroke-width="5.1">
<circle cx="187.0" cy="1013.0" r="12.8"/>
<circle cx="208.2" cy="993.4" r="12.8"/>
<circle cx="229.4" cy="967.0" r="12.8"/>
<circle cx="250.6" cy="932.0" r="12.8"/>
<circle cx="271.9" cy="880.0" r="12.8"/>
<circle cx="293.1" cy="862.0" r="12.8"/>
<circle cx="314.3" cy="830.7" r="12.8"/>
<circle cx="335.5" cy="805.0" r="12.8"/>
<circle cx="356.7" cy="862.0" r="12.8"/>
<circle cx="377.9" cy="852.3" r="12.8"/>
<circle cx="399.1" cy="847.5" r="12.8"/>
<circle cx="420.4" cy="883.5" r="12.8"/>
<circle cx="441.6" cy="924.0" r="12.8"/>
<circle cx="462.8" cy="941.3" r="12.8"/>
<circle cx="484.0" cy="943.3" r="12.8"/>
<circle cx="505.2" cy="939.6" r="12.8"/>
<circle cx="526.4" cy="928.2" r="12.8"/>
<circle cx="547.6" cy="886.5" r="12.8"/>
<circle cx="568.9" cy="858.1" r="12.8"/>
<circle cx="590.1" cy="777.2" r="12.8"/>
<circle cx="611.3" cy="756.8" r="12.8"/>
<circle cx="632.5" cy="717.1" r="12.8"/>
<circle cx="653.7" cy="681.8" r="12.8"/>
<circle cx="674.9" cy="739.4" r="12.8"/>
<circle cx="696.1" cy="785.4" r="12.8"/>
<circle cx="717.3" cy="872.3" r="12.8"/>
<circle cx="738.6" cy="939.4" r="12.8"/>
<circle cx="759.8" cy="1004.4" r="12.8"/>
<circle cx="781.0" cy="1006.8" r="12.8"/>
<circle cx="802.2" cy="979.6" r="12.8"/>
<circle cx="823.4" cy="938.7" r="12.8"/>
<circle cx="844.6" cy="886.7" r="12.8"/>
<circle cx="865.8" cy="857.4" r="12.8"/>
<circle cx="887.1" cy="832.9" r="12.8"/>
<circle cx="908.3" cy="830.6" r="12.8"/>
<circle cx="929.5" cy="864.5" r="12.8"/>
<circle cx="950.7" cy="909.2" r="12.8"/>
<circle cx="971.9" cy="922.0" r="12.8"/>
<circle cx="993.1" cy="903.0" r="12.8"/>
<circle cx="1014.3" cy="892.4" r="12.8"/>
<circle cx="1035.6" cy="855.9" r="12.8"/>
<circle cx="1056.8" cy="783.7" r="12.8"/>
<circle cx="1078.0" cy="712.0" r="12.8"/>
<circle cx="1099.2" cy="701.2" r="12.8"/>
<circle cx="1120.4" cy="674.6" r="12.8"/>
<circle cx="1141.6" cy="667.6" r="12.8"/>
<circle cx="1162.8" cy="676.2" r="12.8"/>
<circle cx="1184.1" cy="765.0" r="12.8"/>
<circle cx="1205.3" cy="839.8" r="12.8"/>
<circle cx="1226.5" cy="934.0" r="12.8"/>
</g>
</g>
<!-- tick labels -->
<path d="M398.7,1221.0 L398.7,1260.6 L393.2,1260.6 L393.2,1231.9 L383.9,1231.9 L383.9,1228.4 C388.7,1228.2 392.2,1226.0 393.7,1221.0 Z" fill="#000"/><path d="M162.9,590.2 L162.9,629.7 L157.4,629.7 L157.4,601.1 L148.1,601.1 L148.1,597.6 C152.9,597.4 156.4,595.2 157.9,590.2 Z" fill="#fb2a0a"/><path d="M163.1,1180.6 L163.1,1219.9 L157.6,1219.9 L157.6,1191.5 L148.3,1191.5 L148.3,1188.0 C153.1,1187.8 156.6,1185.6 158.1,1180.6 Z" fill="#fb2a0a"/><rect x="126.1" y="1202.1" width="14" height="5" fill="#fb2a0a"/>
<g font-size="58.5" fill="#000" text-anchor="middle">
<text x="186.2" y="1260.6">0</text>
<text x="602.2" y="1260.6">2</text>
<text x="810" y="1260.6">3</text>
<text x="1018" y="1260.6">4</text>
<text x="1226" y="1260.6">5</text>
</g>
<g font-size="57" fill="#fb2a0a" text-anchor="end">
<text x="174" y="777.5">0.5</text>
<text x="174" y="925">0</text>
<text x="174" y="1073.5">-0.5</text>
</g>
<text transform="translate(58.3,1062.1) rotate(-90)" font-size="70.5" font-weight="bold" fill="#fb2a0a">Phase</text>
<g fill="#fb2a0a">
<path d="M6.4,763 Q39.5,739.8 72.5,763 L72.5,770.3 Q39.5,753.1 6.4,770.3 Z"/>
<path d="M6.4,812 Q39.5,830.6 72.5,812 L72.5,819.6 Q39.5,843.2 6.4,819.6 Z"/>
<rect x="21.5" y="768.6" width="7.2" height="40.2"/>
<rect x="28.5" y="773.1" width="29.4" height="9.7"/>
<rect x="28.5" y="795.3" width="29.4" height="9.4"/>
</g>
<text transform="translate(1324.9,1126) rotate(-90)" font-size="64" font-weight="bold" fill="#0c3cff" textLength="411" lengthAdjust="spacingAndGlyphs">BLS intensity</text>
<text transform="translate(1396.2,1084.5) rotate(-90)" font-size="64" font-weight="bold" fill="#0c3cff" textLength="328" lengthAdjust="spacingAndGlyphs">(arb. units)</text>
<text x="284.1" y="1346" font-size="70.5" font-weight="bold" fill="#000" textLength="843" lengthAdjust="spacingAndGlyphs">Distance to antenna (<tspan font-style="italic">μ</tspan>m)</text>
</svg>
</body></html>
